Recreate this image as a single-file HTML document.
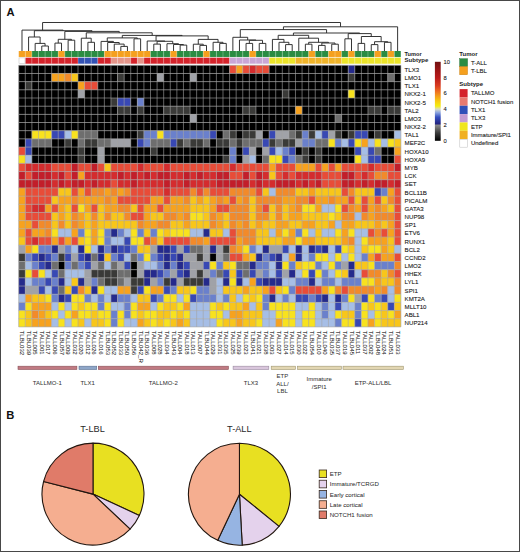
<!DOCTYPE html><html><head><meta charset="utf-8"><style>html,body{margin:0;padding:0;background:#fff;}body{width:520px;height:552px;overflow:hidden;position:relative;}svg{position:absolute;left:0;top:0;}text{font-family:"Liberation Sans",sans-serif;}</style></head><body>
<svg width="520" height="552" viewBox="0 0 520 552">
<rect x="0" y="0" width="520" height="552" fill="#fff"/>
<rect x="0.5" y="0.5" width="519" height="551" fill="none" stroke="#484848" stroke-width="1"/>
<text x="6.6" y="16.3" font-size="11.2" font-weight="bold" fill="#111">A</text>
<text x="6.2" y="418.8" font-size="11.2" font-weight="bold" fill="#111">B</text>
<path d="M41.77 46.00H48.36M41.77 46.00V51.00M48.36 46.00V51.00M35.17 43.40H45.06M35.17 43.40V51.00M45.06 43.40V46.00M28.59 37.00H40.12M28.59 37.00V51.00M40.12 37.00V43.40M54.95 43.10H61.53M54.95 43.10V51.00M61.53 43.10V51.00M68.12 40.20H74.72M68.12 40.20V51.00M74.72 40.20V51.00M58.24 39.30H71.42M58.24 39.30V43.10M71.42 39.30V40.20M87.90 42.30H94.48M87.90 42.30V51.00M94.48 42.30V51.00M81.31 38.20H91.19M81.31 38.20V51.00M91.19 38.20V42.30M120.84 46.40H127.44M120.84 46.40V51.00M127.44 46.40V51.00M114.25 44.10H124.14M114.25 44.10V51.00M124.14 44.10V46.40M107.67 42.50H119.20M107.67 42.50V51.00M119.20 42.50V44.10M101.08 41.40H113.43M101.08 41.40V51.00M113.43 41.40V42.50M134.02 38.80H140.61M134.02 38.80V51.00M140.61 38.80V51.00M107.25 37.90H137.32M107.25 37.90V41.40M137.32 37.90V38.80M153.79 44.10H160.38M153.79 44.10V51.00M160.38 44.10V51.00M180.15 45.10H186.74M180.15 45.10V51.00M186.74 45.10V51.00M173.56 44.50H183.45M173.56 44.50V51.00M183.45 44.50V45.10M166.97 43.70H178.51M166.97 43.70V51.00M178.51 43.70V44.50M157.09 41.30H172.74M157.09 41.30V44.10M172.74 41.30V43.70M147.20 41.00H164.92M147.20 41.00V51.00M164.92 41.00V41.30M199.92 45.40H206.51M199.92 45.40V51.00M206.51 45.40V51.00M193.33 44.20H203.22M193.33 44.20V51.00M203.22 44.20V45.40M219.69 43.40H226.28M219.69 43.40V51.00M226.28 43.40V51.00M213.10 42.30H222.99M213.10 42.30V51.00M222.99 42.30V43.40M198.28 39.40H218.05M198.28 39.40V44.20M218.05 39.40V42.30M156.06 35.90H208.16M156.06 35.90V41.00M208.16 35.90V39.40M122.29 35.40H182.11M122.29 35.40V37.90M182.11 35.40V35.90M86.25 32.80H152.20M86.25 32.80V38.20M152.20 32.80V35.40M64.83 31.40H119.22M64.83 31.40V39.30M119.22 31.40V32.80M34.35 30.70H92.03M34.35 30.70V37.00M92.03 30.70V31.40M21.99 30.10H63.19M21.99 30.10V51.00M63.19 30.10V30.70M246.05 43.40H252.64M246.05 43.40V51.00M252.64 43.40V51.00M259.24 43.40H265.82M259.24 43.40V51.00M265.82 43.40V51.00M249.35 40.30H262.53M249.35 40.30V43.40M262.53 40.30V43.40M239.46 40.00H255.94M239.46 40.00V51.00M255.94 40.00V40.30M232.87 37.30H247.70M232.87 37.30V51.00M247.70 37.30V40.00M285.60 44.60H292.19M285.60 44.60V51.00M292.19 44.60V51.00M279.00 42.30H288.89M279.00 42.30V51.00M288.89 42.30V44.60M272.42 39.40H283.95M272.42 39.40V51.00M283.95 39.40V42.30M305.37 44.20H311.95M305.37 44.20V51.00M311.95 44.20V51.00M318.55 45.40H325.13M318.55 45.40V51.00M325.13 45.40V51.00M331.73 44.20H338.31M331.73 44.20V51.00M338.31 44.20V51.00M321.84 43.00H335.02M321.84 43.00V45.40M335.02 43.00V44.20M308.66 42.30H328.43M308.66 42.30V44.20M328.43 42.30V43.00M298.77 38.20H318.54M298.77 38.20V51.00M318.54 38.20V42.30M278.18 35.30H308.66M278.18 35.30V39.40M308.66 35.30V38.20M344.90 38.80H351.50M344.90 38.80V51.00M351.50 38.80V51.00M358.08 43.40H364.68M358.08 43.40V51.00M364.68 43.40V51.00M371.26 44.60H377.86M371.26 44.60V51.00M377.86 44.60V51.00M384.44 42.30H391.03M384.44 42.30V51.00M391.03 42.30V51.00M374.56 41.70H387.74M374.56 41.70V44.60M387.74 41.70V42.30M361.38 36.50H381.15M361.38 36.50V43.40M381.15 36.50V41.70M348.20 33.60H371.26M348.20 33.60V38.80M371.26 33.60V36.50M293.42 33.00H359.73M293.42 33.00V35.30M359.73 33.00V33.60M240.29 29.60H326.58M240.29 29.60V37.30M326.58 29.60V33.00M283.43 26.80H397.62M283.43 26.80V29.60M397.62 26.80V51.00M42.59 22.50H340.53M42.59 22.50V30.10M340.53 22.50V26.80" fill="none" stroke="#2a2a2a" stroke-width="0.95"/>
<rect x="18.70" y="51.00" width="6.59" height="6.10" fill="#f5a01e"/>
<rect x="18.70" y="57.60" width="6.59" height="6.10" fill="#ffffff"/>
<rect x="25.29" y="51.00" width="6.59" height="6.10" fill="#f5a01e"/>
<rect x="25.29" y="57.60" width="6.59" height="6.10" fill="#d4232b"/>
<rect x="31.88" y="51.00" width="6.59" height="6.10" fill="#2a8c42"/>
<rect x="31.88" y="57.60" width="6.59" height="6.10" fill="#d4232b"/>
<rect x="38.47" y="51.00" width="6.59" height="6.10" fill="#2a8c42"/>
<rect x="38.47" y="57.60" width="6.59" height="6.10" fill="#d4232b"/>
<rect x="45.06" y="51.00" width="6.59" height="6.10" fill="#2a8c42"/>
<rect x="45.06" y="57.60" width="6.59" height="6.10" fill="#d4232b"/>
<rect x="51.65" y="51.00" width="6.59" height="6.10" fill="#2a8c42"/>
<rect x="51.65" y="57.60" width="6.59" height="6.10" fill="#d4232b"/>
<rect x="58.24" y="51.00" width="6.59" height="6.10" fill="#f5a01e"/>
<rect x="58.24" y="57.60" width="6.59" height="6.10" fill="#d4232b"/>
<rect x="64.83" y="51.00" width="6.59" height="6.10" fill="#2a8c42"/>
<rect x="64.83" y="57.60" width="6.59" height="6.10" fill="#d4232b"/>
<rect x="71.42" y="51.00" width="6.59" height="6.10" fill="#2a8c42"/>
<rect x="71.42" y="57.60" width="6.59" height="6.10" fill="#d4232b"/>
<rect x="78.01" y="51.00" width="6.59" height="6.10" fill="#2a8c42"/>
<rect x="78.01" y="57.60" width="6.59" height="6.10" fill="#3352b4"/>
<rect x="84.60" y="51.00" width="6.59" height="6.10" fill="#2a8c42"/>
<rect x="84.60" y="57.60" width="6.59" height="6.10" fill="#3352b4"/>
<rect x="91.19" y="51.00" width="6.59" height="6.10" fill="#2a8c42"/>
<rect x="91.19" y="57.60" width="6.59" height="6.10" fill="#3352b4"/>
<rect x="97.78" y="51.00" width="6.59" height="6.10" fill="#2a8c42"/>
<rect x="97.78" y="57.60" width="6.59" height="6.10" fill="#d4232b"/>
<rect x="104.37" y="51.00" width="6.59" height="6.10" fill="#f5a01e"/>
<rect x="104.37" y="57.60" width="6.59" height="6.10" fill="#d4232b"/>
<rect x="110.96" y="51.00" width="6.59" height="6.10" fill="#f5a01e"/>
<rect x="110.96" y="57.60" width="6.59" height="6.10" fill="#e3958a"/>
<rect x="117.55" y="51.00" width="6.59" height="6.10" fill="#f5a01e"/>
<rect x="117.55" y="57.60" width="6.59" height="6.10" fill="#e3958a"/>
<rect x="124.14" y="51.00" width="6.59" height="6.10" fill="#f5a01e"/>
<rect x="124.14" y="57.60" width="6.59" height="6.10" fill="#e3958a"/>
<rect x="130.73" y="51.00" width="6.59" height="6.10" fill="#f5a01e"/>
<rect x="130.73" y="57.60" width="6.59" height="6.10" fill="#d4232b"/>
<rect x="137.32" y="51.00" width="6.59" height="6.10" fill="#f5a01e"/>
<rect x="137.32" y="57.60" width="6.59" height="6.10" fill="#e3958a"/>
<rect x="143.91" y="51.00" width="6.59" height="6.10" fill="#f5a01e"/>
<rect x="143.91" y="57.60" width="6.59" height="6.10" fill="#d4232b"/>
<rect x="150.50" y="51.00" width="6.59" height="6.10" fill="#2a8c42"/>
<rect x="150.50" y="57.60" width="6.59" height="6.10" fill="#d4232b"/>
<rect x="157.09" y="51.00" width="6.59" height="6.10" fill="#2a8c42"/>
<rect x="157.09" y="57.60" width="6.59" height="6.10" fill="#d4232b"/>
<rect x="163.68" y="51.00" width="6.59" height="6.10" fill="#2a8c42"/>
<rect x="163.68" y="57.60" width="6.59" height="6.10" fill="#d4232b"/>
<rect x="170.27" y="51.00" width="6.59" height="6.10" fill="#f5a01e"/>
<rect x="170.27" y="57.60" width="6.59" height="6.10" fill="#d4232b"/>
<rect x="176.86" y="51.00" width="6.59" height="6.10" fill="#2a8c42"/>
<rect x="176.86" y="57.60" width="6.59" height="6.10" fill="#d4232b"/>
<rect x="183.45" y="51.00" width="6.59" height="6.10" fill="#2a8c42"/>
<rect x="183.45" y="57.60" width="6.59" height="6.10" fill="#d4232b"/>
<rect x="190.04" y="51.00" width="6.59" height="6.10" fill="#2a8c42"/>
<rect x="190.04" y="57.60" width="6.59" height="6.10" fill="#d4232b"/>
<rect x="196.63" y="51.00" width="6.59" height="6.10" fill="#2a8c42"/>
<rect x="196.63" y="57.60" width="6.59" height="6.10" fill="#d4232b"/>
<rect x="203.22" y="51.00" width="6.59" height="6.10" fill="#f5a01e"/>
<rect x="203.22" y="57.60" width="6.59" height="6.10" fill="#d4232b"/>
<rect x="209.81" y="51.00" width="6.59" height="6.10" fill="#2a8c42"/>
<rect x="209.81" y="57.60" width="6.59" height="6.10" fill="#d4232b"/>
<rect x="216.40" y="51.00" width="6.59" height="6.10" fill="#2a8c42"/>
<rect x="216.40" y="57.60" width="6.59" height="6.10" fill="#d4232b"/>
<rect x="222.99" y="51.00" width="6.59" height="6.10" fill="#2a8c42"/>
<rect x="222.99" y="57.60" width="6.59" height="6.10" fill="#d4232b"/>
<rect x="229.58" y="51.00" width="6.59" height="6.10" fill="#2a8c42"/>
<rect x="229.58" y="57.60" width="6.59" height="6.10" fill="#c9a6d6"/>
<rect x="236.17" y="51.00" width="6.59" height="6.10" fill="#2a8c42"/>
<rect x="236.17" y="57.60" width="6.59" height="6.10" fill="#c9a6d6"/>
<rect x="242.76" y="51.00" width="6.59" height="6.10" fill="#2a8c42"/>
<rect x="242.76" y="57.60" width="6.59" height="6.10" fill="#c9a6d6"/>
<rect x="249.35" y="51.00" width="6.59" height="6.10" fill="#f5a01e"/>
<rect x="249.35" y="57.60" width="6.59" height="6.10" fill="#c9a6d6"/>
<rect x="255.94" y="51.00" width="6.59" height="6.10" fill="#2a8c42"/>
<rect x="255.94" y="57.60" width="6.59" height="6.10" fill="#c9a6d6"/>
<rect x="262.53" y="51.00" width="6.59" height="6.10" fill="#2a8c42"/>
<rect x="262.53" y="57.60" width="6.59" height="6.10" fill="#c9a6d6"/>
<rect x="269.12" y="51.00" width="6.59" height="6.10" fill="#2a8c42"/>
<rect x="269.12" y="57.60" width="6.59" height="6.10" fill="#ece42a"/>
<rect x="275.71" y="51.00" width="6.59" height="6.10" fill="#2a8c42"/>
<rect x="275.71" y="57.60" width="6.59" height="6.10" fill="#ece42a"/>
<rect x="282.30" y="51.00" width="6.59" height="6.10" fill="#2a8c42"/>
<rect x="282.30" y="57.60" width="6.59" height="6.10" fill="#ece42a"/>
<rect x="288.89" y="51.00" width="6.59" height="6.10" fill="#2a8c42"/>
<rect x="288.89" y="57.60" width="6.59" height="6.10" fill="#ece42a"/>
<rect x="295.48" y="51.00" width="6.59" height="6.10" fill="#2a8c42"/>
<rect x="295.48" y="57.60" width="6.59" height="6.10" fill="#f0b42a"/>
<rect x="302.07" y="51.00" width="6.59" height="6.10" fill="#2a8c42"/>
<rect x="302.07" y="57.60" width="6.59" height="6.10" fill="#f0b42a"/>
<rect x="308.66" y="51.00" width="6.59" height="6.10" fill="#f5a01e"/>
<rect x="308.66" y="57.60" width="6.59" height="6.10" fill="#f0b42a"/>
<rect x="315.25" y="51.00" width="6.59" height="6.10" fill="#2a8c42"/>
<rect x="315.25" y="57.60" width="6.59" height="6.10" fill="#f0b42a"/>
<rect x="321.84" y="51.00" width="6.59" height="6.10" fill="#2a8c42"/>
<rect x="321.84" y="57.60" width="6.59" height="6.10" fill="#f0b42a"/>
<rect x="328.43" y="51.00" width="6.59" height="6.10" fill="#f5a01e"/>
<rect x="328.43" y="57.60" width="6.59" height="6.10" fill="#f0b42a"/>
<rect x="335.02" y="51.00" width="6.59" height="6.10" fill="#f5a01e"/>
<rect x="335.02" y="57.60" width="6.59" height="6.10" fill="#f0b42a"/>
<rect x="341.61" y="51.00" width="6.59" height="6.10" fill="#2a8c42"/>
<rect x="341.61" y="57.60" width="6.59" height="6.10" fill="#ece42a"/>
<rect x="348.20" y="51.00" width="6.59" height="6.10" fill="#f5a01e"/>
<rect x="348.20" y="57.60" width="6.59" height="6.10" fill="#ece42a"/>
<rect x="354.79" y="51.00" width="6.59" height="6.10" fill="#2a8c42"/>
<rect x="354.79" y="57.60" width="6.59" height="6.10" fill="#ece42a"/>
<rect x="361.38" y="51.00" width="6.59" height="6.10" fill="#2a8c42"/>
<rect x="361.38" y="57.60" width="6.59" height="6.10" fill="#ece42a"/>
<rect x="367.97" y="51.00" width="6.59" height="6.10" fill="#2a8c42"/>
<rect x="367.97" y="57.60" width="6.59" height="6.10" fill="#ece42a"/>
<rect x="374.56" y="51.00" width="6.59" height="6.10" fill="#f5a01e"/>
<rect x="374.56" y="57.60" width="6.59" height="6.10" fill="#ece42a"/>
<rect x="381.15" y="51.00" width="6.59" height="6.10" fill="#2a8c42"/>
<rect x="381.15" y="57.60" width="6.59" height="6.10" fill="#ece42a"/>
<rect x="387.74" y="51.00" width="6.59" height="6.10" fill="#f5a01e"/>
<rect x="387.74" y="57.60" width="6.59" height="6.10" fill="#ece42a"/>
<rect x="394.33" y="51.00" width="6.59" height="6.10" fill="#2a8c42"/>
<rect x="394.33" y="57.60" width="6.59" height="6.10" fill="#ece42a"/>
<path d="M18.70 51.00V63.70M25.29 51.00V63.70M31.88 51.00V63.70M38.47 51.00V63.70M45.06 51.00V63.70M51.65 51.00V63.70M58.24 51.00V63.70M64.83 51.00V63.70M71.42 51.00V63.70M78.01 51.00V63.70M84.60 51.00V63.70M91.19 51.00V63.70M97.78 51.00V63.70M104.37 51.00V63.70M110.96 51.00V63.70M117.55 51.00V63.70M124.14 51.00V63.70M130.73 51.00V63.70M137.32 51.00V63.70M143.91 51.00V63.70M150.50 51.00V63.70M157.09 51.00V63.70M163.68 51.00V63.70M170.27 51.00V63.70M176.86 51.00V63.70M183.45 51.00V63.70M190.04 51.00V63.70M196.63 51.00V63.70M203.22 51.00V63.70M209.81 51.00V63.70M216.40 51.00V63.70M222.99 51.00V63.70M229.58 51.00V63.70M236.17 51.00V63.70M242.76 51.00V63.70M249.35 51.00V63.70M255.94 51.00V63.70M262.53 51.00V63.70M269.12 51.00V63.70M275.71 51.00V63.70M282.30 51.00V63.70M288.89 51.00V63.70M295.48 51.00V63.70M302.07 51.00V63.70M308.66 51.00V63.70M315.25 51.00V63.70M321.84 51.00V63.70M328.43 51.00V63.70M335.02 51.00V63.70M341.61 51.00V63.70M348.20 51.00V63.70M354.79 51.00V63.70M361.38 51.00V63.70M367.97 51.00V63.70M374.56 51.00V63.70M381.15 51.00V63.70M387.74 51.00V63.70M394.33 51.00V63.70M400.92 51.00V63.70M18.70 57.35H400.92" stroke="#fff" stroke-width="0.6" opacity="0.45" fill="none"/>
<rect x="19.00" y="57.90" width="5.99" height="5.50" fill="none" stroke="#bbb" stroke-width="0.5"/>
<rect x="18.70" y="65.30" width="210.88" height="8.18" fill="#000000"/>
<rect x="229.58" y="65.30" width="6.59" height="8.18" fill="#e84c38"/>
<rect x="236.17" y="65.30" width="6.59" height="8.18" fill="#f7a21e"/>
<rect x="242.76" y="65.30" width="6.59" height="8.18" fill="#e84c38"/>
<rect x="249.35" y="65.30" width="6.59" height="8.18" fill="#d42c2e"/>
<rect x="255.94" y="65.30" width="13.18" height="8.18" fill="#e84c38"/>
<rect x="269.12" y="65.30" width="79.08" height="8.18" fill="#000000"/>
<rect x="348.20" y="65.30" width="6.59" height="8.18" fill="#252a8c"/>
<rect x="354.79" y="65.30" width="46.13" height="8.18" fill="#000000"/>
<rect x="18.70" y="73.47" width="32.95" height="8.18" fill="#000000"/>
<rect x="51.65" y="73.47" width="13.18" height="8.18" fill="#f7a21e"/>
<rect x="64.83" y="73.47" width="6.59" height="8.18" fill="#f28a2a"/>
<rect x="71.42" y="73.47" width="6.59" height="8.18" fill="#f8c61a"/>
<rect x="78.01" y="73.47" width="39.54" height="8.18" fill="#000000"/>
<rect x="117.55" y="73.47" width="6.59" height="8.18" fill="#3a3a38"/>
<rect x="124.14" y="73.47" width="32.95" height="8.18" fill="#000000"/>
<rect x="157.09" y="73.47" width="6.59" height="8.18" fill="#a0a2a8"/>
<rect x="163.68" y="73.47" width="26.36" height="8.18" fill="#000000"/>
<rect x="190.04" y="73.47" width="6.59" height="8.18" fill="#a0a2a8"/>
<rect x="196.63" y="73.47" width="151.57" height="8.18" fill="#000000"/>
<rect x="348.20" y="73.47" width="6.59" height="8.18" fill="#3a3a38"/>
<rect x="354.79" y="73.47" width="32.95" height="8.18" fill="#000000"/>
<rect x="387.74" y="73.47" width="6.59" height="8.18" fill="#6e6e6e"/>
<rect x="394.33" y="73.47" width="6.59" height="8.18" fill="#000000"/>
<rect x="18.70" y="81.65" width="6.59" height="8.18" fill="#000000"/>
<rect x="25.29" y="81.65" width="6.59" height="8.18" fill="#3a3a38"/>
<rect x="31.88" y="81.65" width="46.13" height="8.18" fill="#000000"/>
<rect x="78.01" y="81.65" width="6.59" height="8.18" fill="#f7a21e"/>
<rect x="84.60" y="81.65" width="13.18" height="8.18" fill="#e84c38"/>
<rect x="97.78" y="81.65" width="303.14" height="8.18" fill="#000000"/>
<rect x="18.70" y="89.83" width="59.31" height="8.18" fill="#000000"/>
<rect x="78.01" y="89.83" width="6.59" height="8.18" fill="#a0a2a8"/>
<rect x="84.60" y="89.83" width="197.70" height="8.18" fill="#000000"/>
<rect x="282.30" y="89.83" width="6.59" height="8.18" fill="#3a3a38"/>
<rect x="288.89" y="89.83" width="59.31" height="8.18" fill="#000000"/>
<rect x="348.20" y="89.83" width="6.59" height="8.18" fill="#f8e21e"/>
<rect x="354.79" y="89.83" width="46.13" height="8.18" fill="#000000"/>
<rect x="18.70" y="98.00" width="92.26" height="8.18" fill="#000000"/>
<rect x="110.96" y="98.00" width="6.59" height="8.18" fill="#3a3a38"/>
<rect x="117.55" y="98.00" width="13.18" height="8.18" fill="#3848b4"/>
<rect x="130.73" y="98.00" width="6.59" height="8.18" fill="#000000"/>
<rect x="137.32" y="98.00" width="6.59" height="8.18" fill="#6a80cc"/>
<rect x="143.91" y="98.00" width="257.01" height="8.18" fill="#000000"/>
<rect x="18.70" y="106.17" width="98.85" height="8.18" fill="#000000"/>
<rect x="117.55" y="106.17" width="13.18" height="8.18" fill="#3a3a38"/>
<rect x="130.73" y="106.17" width="6.59" height="8.18" fill="#000000"/>
<rect x="137.32" y="106.17" width="6.59" height="8.18" fill="#3a3a38"/>
<rect x="143.91" y="106.17" width="19.77" height="8.18" fill="#000000"/>
<rect x="163.68" y="106.17" width="26.36" height="8.18" fill="#3a3a38"/>
<rect x="190.04" y="106.17" width="52.72" height="8.18" fill="#000000"/>
<rect x="242.76" y="106.17" width="13.18" height="8.18" fill="#3a3a38"/>
<rect x="255.94" y="106.17" width="39.54" height="8.18" fill="#000000"/>
<rect x="295.48" y="106.17" width="6.59" height="8.18" fill="#f7a21e"/>
<rect x="302.07" y="106.17" width="65.90" height="8.18" fill="#000000"/>
<rect x="367.97" y="106.17" width="13.18" height="8.18" fill="#3a3a38"/>
<rect x="381.15" y="106.17" width="6.59" height="8.18" fill="#000000"/>
<rect x="387.74" y="106.17" width="13.18" height="8.18" fill="#3a3a38"/>
<rect x="18.70" y="114.35" width="171.34" height="8.18" fill="#000000"/>
<rect x="190.04" y="114.35" width="6.59" height="8.18" fill="#a0a2a8"/>
<rect x="196.63" y="114.35" width="138.39" height="8.18" fill="#000000"/>
<rect x="335.02" y="114.35" width="6.59" height="8.18" fill="#6e6e6e"/>
<rect x="341.61" y="114.35" width="59.31" height="8.18" fill="#000000"/>
<rect x="18.70" y="122.53" width="382.22" height="8.18" fill="#000000"/>
<rect x="18.70" y="130.70" width="13.18" height="8.18" fill="#000000"/>
<rect x="31.88" y="130.70" width="19.77" height="8.18" fill="#f8e21e"/>
<rect x="51.65" y="130.70" width="13.18" height="8.18" fill="#3848b4"/>
<rect x="64.83" y="130.70" width="6.59" height="8.18" fill="#a6bee6"/>
<rect x="71.42" y="130.70" width="6.59" height="8.18" fill="#f8e21e"/>
<rect x="78.01" y="130.70" width="19.77" height="8.18" fill="#6e6e6e"/>
<rect x="97.78" y="130.70" width="39.54" height="8.18" fill="#000000"/>
<rect x="137.32" y="130.70" width="6.59" height="8.18" fill="#3a3a38"/>
<rect x="143.91" y="130.70" width="13.18" height="8.18" fill="#6a80cc"/>
<rect x="157.09" y="130.70" width="6.59" height="8.18" fill="#f8e21e"/>
<rect x="163.68" y="130.70" width="46.13" height="8.18" fill="#6a80cc"/>
<rect x="209.81" y="130.70" width="6.59" height="8.18" fill="#3848b4"/>
<rect x="216.40" y="130.70" width="6.59" height="8.18" fill="#000000"/>
<rect x="222.99" y="130.70" width="6.59" height="8.18" fill="#6e6e6e"/>
<rect x="229.58" y="130.70" width="6.59" height="8.18" fill="#3a3a38"/>
<rect x="236.17" y="130.70" width="6.59" height="8.18" fill="#000000"/>
<rect x="242.76" y="130.70" width="13.18" height="8.18" fill="#3a3a38"/>
<rect x="255.94" y="130.70" width="6.59" height="8.18" fill="#a0a2a8"/>
<rect x="262.53" y="130.70" width="6.59" height="8.18" fill="#000000"/>
<rect x="269.12" y="130.70" width="6.59" height="8.18" fill="#3848b4"/>
<rect x="275.71" y="130.70" width="13.18" height="8.18" fill="#a0a2a8"/>
<rect x="288.89" y="130.70" width="6.59" height="8.18" fill="#6e6e6e"/>
<rect x="295.48" y="130.70" width="6.59" height="8.18" fill="#3a3a38"/>
<rect x="302.07" y="130.70" width="6.59" height="8.18" fill="#6a80cc"/>
<rect x="308.66" y="130.70" width="6.59" height="8.18" fill="#3a3a38"/>
<rect x="315.25" y="130.70" width="6.59" height="8.18" fill="#a6bee6"/>
<rect x="321.84" y="130.70" width="6.59" height="8.18" fill="#3848b4"/>
<rect x="328.43" y="130.70" width="6.59" height="8.18" fill="#a0a2a8"/>
<rect x="335.02" y="130.70" width="6.59" height="8.18" fill="#3a3a38"/>
<rect x="341.61" y="130.70" width="6.59" height="8.18" fill="#000000"/>
<rect x="348.20" y="130.70" width="6.59" height="8.18" fill="#3a3a38"/>
<rect x="354.79" y="130.70" width="13.18" height="8.18" fill="#3848b4"/>
<rect x="367.97" y="130.70" width="6.59" height="8.18" fill="#000000"/>
<rect x="374.56" y="130.70" width="6.59" height="8.18" fill="#3a3a38"/>
<rect x="381.15" y="130.70" width="13.18" height="8.18" fill="#000000"/>
<rect x="394.33" y="130.70" width="6.59" height="8.18" fill="#a6bee6"/>
<rect x="18.70" y="138.88" width="6.59" height="8.18" fill="#000000"/>
<rect x="25.29" y="138.88" width="6.59" height="8.18" fill="#3848b4"/>
<rect x="31.88" y="138.88" width="19.77" height="8.18" fill="#6e6e6e"/>
<rect x="51.65" y="138.88" width="13.18" height="8.18" fill="#000000"/>
<rect x="64.83" y="138.88" width="6.59" height="8.18" fill="#3a3a38"/>
<rect x="71.42" y="138.88" width="6.59" height="8.18" fill="#000000"/>
<rect x="78.01" y="138.88" width="6.59" height="8.18" fill="#6e6e6e"/>
<rect x="84.60" y="138.88" width="13.18" height="8.18" fill="#3a3a38"/>
<rect x="97.78" y="138.88" width="13.18" height="8.18" fill="#6e6e6e"/>
<rect x="110.96" y="138.88" width="19.77" height="8.18" fill="#a0a2a8"/>
<rect x="130.73" y="138.88" width="6.59" height="8.18" fill="#000000"/>
<rect x="137.32" y="138.88" width="6.59" height="8.18" fill="#3848b4"/>
<rect x="143.91" y="138.88" width="6.59" height="8.18" fill="#6a80cc"/>
<rect x="150.50" y="138.88" width="19.77" height="8.18" fill="#6e6e6e"/>
<rect x="170.27" y="138.88" width="6.59" height="8.18" fill="#3848b4"/>
<rect x="176.86" y="138.88" width="6.59" height="8.18" fill="#3a3a38"/>
<rect x="183.45" y="138.88" width="6.59" height="8.18" fill="#6e6e6e"/>
<rect x="190.04" y="138.88" width="13.18" height="8.18" fill="#3a3a38"/>
<rect x="203.22" y="138.88" width="6.59" height="8.18" fill="#6e6e6e"/>
<rect x="209.81" y="138.88" width="6.59" height="8.18" fill="#000000"/>
<rect x="216.40" y="138.88" width="13.18" height="8.18" fill="#3a3a38"/>
<rect x="229.58" y="138.88" width="6.59" height="8.18" fill="#6e6e6e"/>
<rect x="236.17" y="138.88" width="6.59" height="8.18" fill="#3a3a38"/>
<rect x="242.76" y="138.88" width="19.77" height="8.18" fill="#6e6e6e"/>
<rect x="262.53" y="138.88" width="6.59" height="8.18" fill="#3848b4"/>
<rect x="269.12" y="138.88" width="6.59" height="8.18" fill="#3a3a38"/>
<rect x="275.71" y="138.88" width="6.59" height="8.18" fill="#6e6e6e"/>
<rect x="282.30" y="138.88" width="13.18" height="8.18" fill="#3a3a38"/>
<rect x="295.48" y="138.88" width="6.59" height="8.18" fill="#a0a2a8"/>
<rect x="302.07" y="138.88" width="13.18" height="8.18" fill="#6a80cc"/>
<rect x="315.25" y="138.88" width="13.18" height="8.18" fill="#6e6e6e"/>
<rect x="328.43" y="138.88" width="6.59" height="8.18" fill="#f8e21e"/>
<rect x="335.02" y="138.88" width="6.59" height="8.18" fill="#6a80cc"/>
<rect x="341.61" y="138.88" width="6.59" height="8.18" fill="#a6bee6"/>
<rect x="348.20" y="138.88" width="6.59" height="8.18" fill="#3848b4"/>
<rect x="354.79" y="138.88" width="6.59" height="8.18" fill="#f8e21e"/>
<rect x="361.38" y="138.88" width="6.59" height="8.18" fill="#f7a21e"/>
<rect x="367.97" y="138.88" width="6.59" height="8.18" fill="#a6bee6"/>
<rect x="374.56" y="138.88" width="6.59" height="8.18" fill="#f8e21e"/>
<rect x="381.15" y="138.88" width="6.59" height="8.18" fill="#a6bee6"/>
<rect x="387.74" y="138.88" width="6.59" height="8.18" fill="#f8e21e"/>
<rect x="394.33" y="138.88" width="6.59" height="8.18" fill="#f8c61a"/>
<rect x="18.70" y="147.05" width="6.59" height="8.18" fill="#e84c38"/>
<rect x="25.29" y="147.05" width="6.59" height="8.18" fill="#3848b4"/>
<rect x="31.88" y="147.05" width="46.13" height="8.18" fill="#000000"/>
<rect x="78.01" y="147.05" width="6.59" height="8.18" fill="#3a3a38"/>
<rect x="84.60" y="147.05" width="13.18" height="8.18" fill="#000000"/>
<rect x="97.78" y="147.05" width="6.59" height="8.18" fill="#a0a2a8"/>
<rect x="104.37" y="147.05" width="46.13" height="8.18" fill="#000000"/>
<rect x="150.50" y="147.05" width="6.59" height="8.18" fill="#3a3a38"/>
<rect x="157.09" y="147.05" width="72.49" height="8.18" fill="#000000"/>
<rect x="229.58" y="147.05" width="6.59" height="8.18" fill="#6a80cc"/>
<rect x="236.17" y="147.05" width="6.59" height="8.18" fill="#000000"/>
<rect x="242.76" y="147.05" width="6.59" height="8.18" fill="#3848b4"/>
<rect x="249.35" y="147.05" width="6.59" height="8.18" fill="#a0a2a8"/>
<rect x="255.94" y="147.05" width="6.59" height="8.18" fill="#000000"/>
<rect x="262.53" y="147.05" width="6.59" height="8.18" fill="#a0a2a8"/>
<rect x="269.12" y="147.05" width="6.59" height="8.18" fill="#3848b4"/>
<rect x="275.71" y="147.05" width="6.59" height="8.18" fill="#a6bee6"/>
<rect x="282.30" y="147.05" width="6.59" height="8.18" fill="#6a80cc"/>
<rect x="288.89" y="147.05" width="6.59" height="8.18" fill="#3848b4"/>
<rect x="295.48" y="147.05" width="6.59" height="8.18" fill="#000000"/>
<rect x="302.07" y="147.05" width="6.59" height="8.18" fill="#3a3a38"/>
<rect x="308.66" y="147.05" width="6.59" height="8.18" fill="#000000"/>
<rect x="315.25" y="147.05" width="6.59" height="8.18" fill="#3a3a38"/>
<rect x="321.84" y="147.05" width="32.95" height="8.18" fill="#000000"/>
<rect x="354.79" y="147.05" width="6.59" height="8.18" fill="#3848b4"/>
<rect x="361.38" y="147.05" width="6.59" height="8.18" fill="#a6bee6"/>
<rect x="367.97" y="147.05" width="6.59" height="8.18" fill="#3848b4"/>
<rect x="374.56" y="147.05" width="6.59" height="8.18" fill="#6e6e6e"/>
<rect x="381.15" y="147.05" width="13.18" height="8.18" fill="#000000"/>
<rect x="394.33" y="147.05" width="6.59" height="8.18" fill="#f7a21e"/>
<rect x="18.70" y="155.23" width="6.59" height="8.18" fill="#f8e21e"/>
<rect x="25.29" y="155.23" width="6.59" height="8.18" fill="#a6bee6"/>
<rect x="31.88" y="155.23" width="46.13" height="8.18" fill="#000000"/>
<rect x="78.01" y="155.23" width="6.59" height="8.18" fill="#3a3a38"/>
<rect x="84.60" y="155.23" width="13.18" height="8.18" fill="#000000"/>
<rect x="97.78" y="155.23" width="6.59" height="8.18" fill="#a0a2a8"/>
<rect x="104.37" y="155.23" width="118.62" height="8.18" fill="#000000"/>
<rect x="222.99" y="155.23" width="6.59" height="8.18" fill="#3a3a38"/>
<rect x="229.58" y="155.23" width="6.59" height="8.18" fill="#6a80cc"/>
<rect x="236.17" y="155.23" width="6.59" height="8.18" fill="#000000"/>
<rect x="242.76" y="155.23" width="6.59" height="8.18" fill="#a0a2a8"/>
<rect x="249.35" y="155.23" width="6.59" height="8.18" fill="#a6bee6"/>
<rect x="255.94" y="155.23" width="6.59" height="8.18" fill="#000000"/>
<rect x="262.53" y="155.23" width="6.59" height="8.18" fill="#6e6e6e"/>
<rect x="269.12" y="155.23" width="13.18" height="8.18" fill="#f8e21e"/>
<rect x="282.30" y="155.23" width="6.59" height="8.18" fill="#3848b4"/>
<rect x="288.89" y="155.23" width="6.59" height="8.18" fill="#6a80cc"/>
<rect x="295.48" y="155.23" width="6.59" height="8.18" fill="#6e6e6e"/>
<rect x="302.07" y="155.23" width="6.59" height="8.18" fill="#3a3a38"/>
<rect x="308.66" y="155.23" width="6.59" height="8.18" fill="#000000"/>
<rect x="315.25" y="155.23" width="6.59" height="8.18" fill="#3a3a38"/>
<rect x="321.84" y="155.23" width="32.95" height="8.18" fill="#000000"/>
<rect x="354.79" y="155.23" width="6.59" height="8.18" fill="#f8e21e"/>
<rect x="361.38" y="155.23" width="6.59" height="8.18" fill="#a6bee6"/>
<rect x="367.97" y="155.23" width="13.18" height="8.18" fill="#3848b4"/>
<rect x="381.15" y="155.23" width="13.18" height="8.18" fill="#000000"/>
<rect x="394.33" y="155.23" width="6.59" height="8.18" fill="#e84c38"/>
<rect x="18.70" y="163.40" width="6.59" height="8.18" fill="#e84c38"/>
<rect x="25.29" y="163.40" width="26.36" height="8.18" fill="#d42c2e"/>
<rect x="51.65" y="163.40" width="19.77" height="8.18" fill="#e84c38"/>
<rect x="71.42" y="163.40" width="6.59" height="8.18" fill="#c21e2a"/>
<rect x="78.01" y="163.40" width="13.18" height="8.18" fill="#e84c38"/>
<rect x="91.19" y="163.40" width="6.59" height="8.18" fill="#c21e2a"/>
<rect x="97.78" y="163.40" width="6.59" height="8.18" fill="#e84c38"/>
<rect x="104.37" y="163.40" width="6.59" height="8.18" fill="#f8c61a"/>
<rect x="110.96" y="163.40" width="26.36" height="8.18" fill="#e84c38"/>
<rect x="137.32" y="163.40" width="6.59" height="8.18" fill="#d42c2e"/>
<rect x="143.91" y="163.40" width="19.77" height="8.18" fill="#e84c38"/>
<rect x="163.68" y="163.40" width="6.59" height="8.18" fill="#d42c2e"/>
<rect x="170.27" y="163.40" width="59.31" height="8.18" fill="#e84c38"/>
<rect x="229.58" y="163.40" width="6.59" height="8.18" fill="#d42c2e"/>
<rect x="236.17" y="163.40" width="32.95" height="8.18" fill="#e84c38"/>
<rect x="269.12" y="163.40" width="6.59" height="8.18" fill="#f7a21e"/>
<rect x="275.71" y="163.40" width="19.77" height="8.18" fill="#e84c38"/>
<rect x="295.48" y="163.40" width="19.77" height="8.18" fill="#f7a21e"/>
<rect x="315.25" y="163.40" width="6.59" height="8.18" fill="#e84c38"/>
<rect x="321.84" y="163.40" width="6.59" height="8.18" fill="#f7a21e"/>
<rect x="328.43" y="163.40" width="6.59" height="8.18" fill="#e84c38"/>
<rect x="335.02" y="163.40" width="6.59" height="8.18" fill="#f7a21e"/>
<rect x="341.61" y="163.40" width="26.36" height="8.18" fill="#e84c38"/>
<rect x="367.97" y="163.40" width="6.59" height="8.18" fill="#d42c2e"/>
<rect x="374.56" y="163.40" width="19.77" height="8.18" fill="#e84c38"/>
<rect x="394.33" y="163.40" width="6.59" height="8.18" fill="#c21e2a"/>
<rect x="18.70" y="171.57" width="6.59" height="8.18" fill="#c21e2a"/>
<rect x="25.29" y="171.57" width="6.59" height="8.18" fill="#e84c38"/>
<rect x="31.88" y="171.57" width="19.77" height="8.18" fill="#c21e2a"/>
<rect x="51.65" y="171.57" width="6.59" height="8.18" fill="#d42c2e"/>
<rect x="58.24" y="171.57" width="6.59" height="8.18" fill="#c21e2a"/>
<rect x="64.83" y="171.57" width="6.59" height="8.18" fill="#e84c38"/>
<rect x="71.42" y="171.57" width="6.59" height="8.18" fill="#c21e2a"/>
<rect x="78.01" y="171.57" width="6.59" height="8.18" fill="#f7a21e"/>
<rect x="84.60" y="171.57" width="32.95" height="8.18" fill="#d42c2e"/>
<rect x="117.55" y="171.57" width="6.59" height="8.18" fill="#c21e2a"/>
<rect x="124.14" y="171.57" width="6.59" height="8.18" fill="#d42c2e"/>
<rect x="130.73" y="171.57" width="6.59" height="8.18" fill="#c21e2a"/>
<rect x="137.32" y="171.57" width="6.59" height="8.18" fill="#d42c2e"/>
<rect x="143.91" y="171.57" width="6.59" height="8.18" fill="#c21e2a"/>
<rect x="150.50" y="171.57" width="6.59" height="8.18" fill="#d42c2e"/>
<rect x="157.09" y="171.57" width="13.18" height="8.18" fill="#c21e2a"/>
<rect x="170.27" y="171.57" width="13.18" height="8.18" fill="#d42c2e"/>
<rect x="183.45" y="171.57" width="6.59" height="8.18" fill="#c21e2a"/>
<rect x="190.04" y="171.57" width="6.59" height="8.18" fill="#d42c2e"/>
<rect x="196.63" y="171.57" width="6.59" height="8.18" fill="#c21e2a"/>
<rect x="203.22" y="171.57" width="13.18" height="8.18" fill="#d42c2e"/>
<rect x="216.40" y="171.57" width="13.18" height="8.18" fill="#c21e2a"/>
<rect x="229.58" y="171.57" width="13.18" height="8.18" fill="#e84c38"/>
<rect x="242.76" y="171.57" width="6.59" height="8.18" fill="#c21e2a"/>
<rect x="249.35" y="171.57" width="6.59" height="8.18" fill="#e84c38"/>
<rect x="255.94" y="171.57" width="6.59" height="8.18" fill="#c21e2a"/>
<rect x="262.53" y="171.57" width="6.59" height="8.18" fill="#d42c2e"/>
<rect x="269.12" y="171.57" width="6.59" height="8.18" fill="#f8c61a"/>
<rect x="275.71" y="171.57" width="6.59" height="8.18" fill="#e84c38"/>
<rect x="282.30" y="171.57" width="6.59" height="8.18" fill="#d42c2e"/>
<rect x="288.89" y="171.57" width="6.59" height="8.18" fill="#e84c38"/>
<rect x="295.48" y="171.57" width="26.36" height="8.18" fill="#d42c2e"/>
<rect x="321.84" y="171.57" width="19.77" height="8.18" fill="#e84c38"/>
<rect x="341.61" y="171.57" width="13.18" height="8.18" fill="#c21e2a"/>
<rect x="354.79" y="171.57" width="6.59" height="8.18" fill="#e84c38"/>
<rect x="361.38" y="171.57" width="6.59" height="8.18" fill="#d42c2e"/>
<rect x="367.97" y="171.57" width="6.59" height="8.18" fill="#e84c38"/>
<rect x="374.56" y="171.57" width="13.18" height="8.18" fill="#f28a2a"/>
<rect x="387.74" y="171.57" width="13.18" height="8.18" fill="#e84c38"/>
<rect x="18.70" y="179.75" width="32.95" height="8.18" fill="#c21e2a"/>
<rect x="51.65" y="179.75" width="6.59" height="8.18" fill="#d42c2e"/>
<rect x="58.24" y="179.75" width="6.59" height="8.18" fill="#c21e2a"/>
<rect x="64.83" y="179.75" width="6.59" height="8.18" fill="#d42c2e"/>
<rect x="71.42" y="179.75" width="13.18" height="8.18" fill="#c21e2a"/>
<rect x="84.60" y="179.75" width="6.59" height="8.18" fill="#d42c2e"/>
<rect x="91.19" y="179.75" width="6.59" height="8.18" fill="#c21e2a"/>
<rect x="97.78" y="179.75" width="13.18" height="8.18" fill="#d42c2e"/>
<rect x="110.96" y="179.75" width="6.59" height="8.18" fill="#e84c38"/>
<rect x="117.55" y="179.75" width="13.18" height="8.18" fill="#d42c2e"/>
<rect x="130.73" y="179.75" width="6.59" height="8.18" fill="#c21e2a"/>
<rect x="137.32" y="179.75" width="26.36" height="8.18" fill="#d42c2e"/>
<rect x="163.68" y="179.75" width="6.59" height="8.18" fill="#c21e2a"/>
<rect x="170.27" y="179.75" width="13.18" height="8.18" fill="#d42c2e"/>
<rect x="183.45" y="179.75" width="6.59" height="8.18" fill="#c21e2a"/>
<rect x="190.04" y="179.75" width="26.36" height="8.18" fill="#d42c2e"/>
<rect x="216.40" y="179.75" width="32.95" height="8.18" fill="#c21e2a"/>
<rect x="249.35" y="179.75" width="6.59" height="8.18" fill="#d42c2e"/>
<rect x="255.94" y="179.75" width="6.59" height="8.18" fill="#c21e2a"/>
<rect x="262.53" y="179.75" width="13.18" height="8.18" fill="#d42c2e"/>
<rect x="275.71" y="179.75" width="19.77" height="8.18" fill="#c21e2a"/>
<rect x="295.48" y="179.75" width="6.59" height="8.18" fill="#d42c2e"/>
<rect x="302.07" y="179.75" width="6.59" height="8.18" fill="#c21e2a"/>
<rect x="308.66" y="179.75" width="6.59" height="8.18" fill="#d42c2e"/>
<rect x="315.25" y="179.75" width="6.59" height="8.18" fill="#c21e2a"/>
<rect x="321.84" y="179.75" width="19.77" height="8.18" fill="#e84c38"/>
<rect x="341.61" y="179.75" width="13.18" height="8.18" fill="#c21e2a"/>
<rect x="354.79" y="179.75" width="6.59" height="8.18" fill="#d42c2e"/>
<rect x="361.38" y="179.75" width="6.59" height="8.18" fill="#c21e2a"/>
<rect x="367.97" y="179.75" width="6.59" height="8.18" fill="#d42c2e"/>
<rect x="374.56" y="179.75" width="13.18" height="8.18" fill="#c21e2a"/>
<rect x="387.74" y="179.75" width="6.59" height="8.18" fill="#d42c2e"/>
<rect x="394.33" y="179.75" width="6.59" height="8.18" fill="#c21e2a"/>
<rect x="18.70" y="187.93" width="6.59" height="8.18" fill="#f7a21e"/>
<rect x="25.29" y="187.93" width="32.95" height="8.18" fill="#e84c38"/>
<rect x="58.24" y="187.93" width="13.18" height="8.18" fill="#f8c61a"/>
<rect x="71.42" y="187.93" width="6.59" height="8.18" fill="#e84c38"/>
<rect x="78.01" y="187.93" width="6.59" height="8.18" fill="#f7a21e"/>
<rect x="84.60" y="187.93" width="6.59" height="8.18" fill="#e84c38"/>
<rect x="91.19" y="187.93" width="13.18" height="8.18" fill="#f28a2a"/>
<rect x="104.37" y="187.93" width="6.59" height="8.18" fill="#f7a21e"/>
<rect x="110.96" y="187.93" width="6.59" height="8.18" fill="#f28a2a"/>
<rect x="117.55" y="187.93" width="6.59" height="8.18" fill="#f7a21e"/>
<rect x="124.14" y="187.93" width="6.59" height="8.18" fill="#f28a2a"/>
<rect x="130.73" y="187.93" width="32.95" height="8.18" fill="#e84c38"/>
<rect x="163.68" y="187.93" width="6.59" height="8.18" fill="#d42c2e"/>
<rect x="170.27" y="187.93" width="19.77" height="8.18" fill="#e84c38"/>
<rect x="190.04" y="187.93" width="6.59" height="8.18" fill="#f28a2a"/>
<rect x="196.63" y="187.93" width="6.59" height="8.18" fill="#e84c38"/>
<rect x="203.22" y="187.93" width="6.59" height="8.18" fill="#f28a2a"/>
<rect x="209.81" y="187.93" width="19.77" height="8.18" fill="#e84c38"/>
<rect x="229.58" y="187.93" width="26.36" height="8.18" fill="#f28a2a"/>
<rect x="255.94" y="187.93" width="6.59" height="8.18" fill="#e84c38"/>
<rect x="262.53" y="187.93" width="6.59" height="8.18" fill="#f8c61a"/>
<rect x="269.12" y="187.93" width="6.59" height="8.18" fill="#a6bee6"/>
<rect x="275.71" y="187.93" width="19.77" height="8.18" fill="#f28a2a"/>
<rect x="295.48" y="187.93" width="13.18" height="8.18" fill="#f8c61a"/>
<rect x="308.66" y="187.93" width="6.59" height="8.18" fill="#f7a21e"/>
<rect x="315.25" y="187.93" width="26.36" height="8.18" fill="#f8c61a"/>
<rect x="341.61" y="187.93" width="6.59" height="8.18" fill="#e84c38"/>
<rect x="348.20" y="187.93" width="6.59" height="8.18" fill="#f28a2a"/>
<rect x="354.79" y="187.93" width="19.77" height="8.18" fill="#f8c61a"/>
<rect x="374.56" y="187.93" width="6.59" height="8.18" fill="#3848b4"/>
<rect x="381.15" y="187.93" width="6.59" height="8.18" fill="#6a80cc"/>
<rect x="387.74" y="187.93" width="6.59" height="8.18" fill="#f7a21e"/>
<rect x="394.33" y="187.93" width="6.59" height="8.18" fill="#e84c38"/>
<rect x="18.70" y="196.10" width="6.59" height="8.18" fill="#f7a21e"/>
<rect x="25.29" y="196.10" width="26.36" height="8.18" fill="#e84c38"/>
<rect x="51.65" y="196.10" width="6.59" height="8.18" fill="#f8c61a"/>
<rect x="58.24" y="196.10" width="13.18" height="8.18" fill="#f7a21e"/>
<rect x="71.42" y="196.10" width="6.59" height="8.18" fill="#f28a2a"/>
<rect x="78.01" y="196.10" width="26.36" height="8.18" fill="#f7a21e"/>
<rect x="104.37" y="196.10" width="6.59" height="8.18" fill="#f28a2a"/>
<rect x="110.96" y="196.10" width="6.59" height="8.18" fill="#f7a21e"/>
<rect x="117.55" y="196.10" width="32.95" height="8.18" fill="#e84c38"/>
<rect x="150.50" y="196.10" width="13.18" height="8.18" fill="#f7a21e"/>
<rect x="163.68" y="196.10" width="6.59" height="8.18" fill="#e84c38"/>
<rect x="170.27" y="196.10" width="13.18" height="8.18" fill="#f7a21e"/>
<rect x="183.45" y="196.10" width="6.59" height="8.18" fill="#f28a2a"/>
<rect x="190.04" y="196.10" width="6.59" height="8.18" fill="#f8c61a"/>
<rect x="196.63" y="196.10" width="6.59" height="8.18" fill="#f7a21e"/>
<rect x="203.22" y="196.10" width="6.59" height="8.18" fill="#f8c61a"/>
<rect x="209.81" y="196.10" width="6.59" height="8.18" fill="#f7a21e"/>
<rect x="216.40" y="196.10" width="6.59" height="8.18" fill="#f28a2a"/>
<rect x="222.99" y="196.10" width="6.59" height="8.18" fill="#f7a21e"/>
<rect x="229.58" y="196.10" width="6.59" height="8.18" fill="#e84c38"/>
<rect x="236.17" y="196.10" width="6.59" height="8.18" fill="#f7a21e"/>
<rect x="242.76" y="196.10" width="6.59" height="8.18" fill="#f28a2a"/>
<rect x="249.35" y="196.10" width="6.59" height="8.18" fill="#f8c61a"/>
<rect x="255.94" y="196.10" width="26.36" height="8.18" fill="#f28a2a"/>
<rect x="282.30" y="196.10" width="13.18" height="8.18" fill="#f7a21e"/>
<rect x="295.48" y="196.10" width="13.18" height="8.18" fill="#f28a2a"/>
<rect x="308.66" y="196.10" width="6.59" height="8.18" fill="#e84c38"/>
<rect x="315.25" y="196.10" width="13.18" height="8.18" fill="#f7a21e"/>
<rect x="328.43" y="196.10" width="6.59" height="8.18" fill="#f28a2a"/>
<rect x="335.02" y="196.10" width="13.18" height="8.18" fill="#f7a21e"/>
<rect x="348.20" y="196.10" width="6.59" height="8.18" fill="#e84c38"/>
<rect x="354.79" y="196.10" width="6.59" height="8.18" fill="#f8c61a"/>
<rect x="361.38" y="196.10" width="6.59" height="8.18" fill="#e84c38"/>
<rect x="367.97" y="196.10" width="6.59" height="8.18" fill="#f7a21e"/>
<rect x="374.56" y="196.10" width="6.59" height="8.18" fill="#e84c38"/>
<rect x="381.15" y="196.10" width="6.59" height="8.18" fill="#f8c61a"/>
<rect x="387.74" y="196.10" width="6.59" height="8.18" fill="#f28a2a"/>
<rect x="394.33" y="196.10" width="6.59" height="8.18" fill="#e84c38"/>
<rect x="18.70" y="204.28" width="6.59" height="8.18" fill="#f7a21e"/>
<rect x="25.29" y="204.28" width="6.59" height="8.18" fill="#e84c38"/>
<rect x="31.88" y="204.28" width="13.18" height="8.18" fill="#d42c2e"/>
<rect x="45.06" y="204.28" width="6.59" height="8.18" fill="#f7a21e"/>
<rect x="51.65" y="204.28" width="6.59" height="8.18" fill="#e84c38"/>
<rect x="58.24" y="204.28" width="6.59" height="8.18" fill="#f7a21e"/>
<rect x="64.83" y="204.28" width="6.59" height="8.18" fill="#f8c61a"/>
<rect x="71.42" y="204.28" width="6.59" height="8.18" fill="#e84c38"/>
<rect x="78.01" y="204.28" width="6.59" height="8.18" fill="#f8e21e"/>
<rect x="84.60" y="204.28" width="6.59" height="8.18" fill="#f7a21e"/>
<rect x="91.19" y="204.28" width="6.59" height="8.18" fill="#e84c38"/>
<rect x="97.78" y="204.28" width="6.59" height="8.18" fill="#f8c61a"/>
<rect x="104.37" y="204.28" width="13.18" height="8.18" fill="#f7a21e"/>
<rect x="117.55" y="204.28" width="13.18" height="8.18" fill="#f28a2a"/>
<rect x="130.73" y="204.28" width="6.59" height="8.18" fill="#f8c61a"/>
<rect x="137.32" y="204.28" width="6.59" height="8.18" fill="#e84c38"/>
<rect x="143.91" y="204.28" width="13.18" height="8.18" fill="#f7a21e"/>
<rect x="157.09" y="204.28" width="6.59" height="8.18" fill="#e84c38"/>
<rect x="163.68" y="204.28" width="26.36" height="8.18" fill="#f7a21e"/>
<rect x="190.04" y="204.28" width="19.77" height="8.18" fill="#f8c61a"/>
<rect x="209.81" y="204.28" width="6.59" height="8.18" fill="#f7a21e"/>
<rect x="216.40" y="204.28" width="13.18" height="8.18" fill="#e84c38"/>
<rect x="229.58" y="204.28" width="19.77" height="8.18" fill="#f28a2a"/>
<rect x="249.35" y="204.28" width="6.59" height="8.18" fill="#f8c61a"/>
<rect x="255.94" y="204.28" width="6.59" height="8.18" fill="#f28a2a"/>
<rect x="262.53" y="204.28" width="6.59" height="8.18" fill="#e84c38"/>
<rect x="269.12" y="204.28" width="6.59" height="8.18" fill="#f8c61a"/>
<rect x="275.71" y="204.28" width="6.59" height="8.18" fill="#f28a2a"/>
<rect x="282.30" y="204.28" width="6.59" height="8.18" fill="#f8c61a"/>
<rect x="288.89" y="204.28" width="6.59" height="8.18" fill="#f7a21e"/>
<rect x="295.48" y="204.28" width="6.59" height="8.18" fill="#f28a2a"/>
<rect x="302.07" y="204.28" width="13.18" height="8.18" fill="#f8e21e"/>
<rect x="315.25" y="204.28" width="6.59" height="8.18" fill="#f7a21e"/>
<rect x="321.84" y="204.28" width="13.18" height="8.18" fill="#a6bee6"/>
<rect x="335.02" y="204.28" width="6.59" height="8.18" fill="#f8e21e"/>
<rect x="341.61" y="204.28" width="6.59" height="8.18" fill="#e84c38"/>
<rect x="348.20" y="204.28" width="6.59" height="8.18" fill="#f28a2a"/>
<rect x="354.79" y="204.28" width="6.59" height="8.18" fill="#f7a21e"/>
<rect x="361.38" y="204.28" width="6.59" height="8.18" fill="#e84c38"/>
<rect x="367.97" y="204.28" width="6.59" height="8.18" fill="#f7a21e"/>
<rect x="374.56" y="204.28" width="6.59" height="8.18" fill="#f28a2a"/>
<rect x="381.15" y="204.28" width="6.59" height="8.18" fill="#f7a21e"/>
<rect x="387.74" y="204.28" width="6.59" height="8.18" fill="#f8c61a"/>
<rect x="394.33" y="204.28" width="6.59" height="8.18" fill="#e84c38"/>
<rect x="18.70" y="212.45" width="6.59" height="8.18" fill="#f7a21e"/>
<rect x="25.29" y="212.45" width="26.36" height="8.18" fill="#e84c38"/>
<rect x="51.65" y="212.45" width="6.59" height="8.18" fill="#f8c61a"/>
<rect x="58.24" y="212.45" width="6.59" height="8.18" fill="#f7a21e"/>
<rect x="64.83" y="212.45" width="6.59" height="8.18" fill="#f8c61a"/>
<rect x="71.42" y="212.45" width="6.59" height="8.18" fill="#f28a2a"/>
<rect x="78.01" y="212.45" width="6.59" height="8.18" fill="#f7a21e"/>
<rect x="84.60" y="212.45" width="6.59" height="8.18" fill="#f8c61a"/>
<rect x="91.19" y="212.45" width="6.59" height="8.18" fill="#f28a2a"/>
<rect x="97.78" y="212.45" width="6.59" height="8.18" fill="#f8c61a"/>
<rect x="104.37" y="212.45" width="6.59" height="8.18" fill="#f28a2a"/>
<rect x="110.96" y="212.45" width="13.18" height="8.18" fill="#f8c61a"/>
<rect x="124.14" y="212.45" width="6.59" height="8.18" fill="#f28a2a"/>
<rect x="130.73" y="212.45" width="13.18" height="8.18" fill="#e84c38"/>
<rect x="143.91" y="212.45" width="6.59" height="8.18" fill="#f7a21e"/>
<rect x="150.50" y="212.45" width="13.18" height="8.18" fill="#f8c61a"/>
<rect x="163.68" y="212.45" width="13.18" height="8.18" fill="#f28a2a"/>
<rect x="176.86" y="212.45" width="6.59" height="8.18" fill="#f7a21e"/>
<rect x="183.45" y="212.45" width="6.59" height="8.18" fill="#f28a2a"/>
<rect x="190.04" y="212.45" width="13.18" height="8.18" fill="#f8e21e"/>
<rect x="203.22" y="212.45" width="6.59" height="8.18" fill="#f8c61a"/>
<rect x="209.81" y="212.45" width="6.59" height="8.18" fill="#f28a2a"/>
<rect x="216.40" y="212.45" width="6.59" height="8.18" fill="#f7a21e"/>
<rect x="222.99" y="212.45" width="6.59" height="8.18" fill="#f8c61a"/>
<rect x="229.58" y="212.45" width="19.77" height="8.18" fill="#f28a2a"/>
<rect x="249.35" y="212.45" width="6.59" height="8.18" fill="#f8c61a"/>
<rect x="255.94" y="212.45" width="13.18" height="8.18" fill="#f28a2a"/>
<rect x="269.12" y="212.45" width="6.59" height="8.18" fill="#f8c61a"/>
<rect x="275.71" y="212.45" width="6.59" height="8.18" fill="#f28a2a"/>
<rect x="282.30" y="212.45" width="6.59" height="8.18" fill="#f8c61a"/>
<rect x="288.89" y="212.45" width="13.18" height="8.18" fill="#f7a21e"/>
<rect x="302.07" y="212.45" width="26.36" height="8.18" fill="#f8c61a"/>
<rect x="328.43" y="212.45" width="6.59" height="8.18" fill="#f8e21e"/>
<rect x="335.02" y="212.45" width="6.59" height="8.18" fill="#f8c61a"/>
<rect x="341.61" y="212.45" width="13.18" height="8.18" fill="#f28a2a"/>
<rect x="354.79" y="212.45" width="6.59" height="8.18" fill="#a6bee6"/>
<rect x="361.38" y="212.45" width="6.59" height="8.18" fill="#f28a2a"/>
<rect x="367.97" y="212.45" width="6.59" height="8.18" fill="#f7a21e"/>
<rect x="374.56" y="212.45" width="19.77" height="8.18" fill="#f28a2a"/>
<rect x="394.33" y="212.45" width="6.59" height="8.18" fill="#e84c38"/>
<rect x="18.70" y="220.62" width="13.18" height="8.18" fill="#f7a21e"/>
<rect x="31.88" y="220.62" width="6.59" height="8.18" fill="#e84c38"/>
<rect x="38.47" y="220.62" width="13.18" height="8.18" fill="#f28a2a"/>
<rect x="51.65" y="220.62" width="6.59" height="8.18" fill="#f8c61a"/>
<rect x="58.24" y="220.62" width="6.59" height="8.18" fill="#f28a2a"/>
<rect x="64.83" y="220.62" width="6.59" height="8.18" fill="#f8c61a"/>
<rect x="71.42" y="220.62" width="6.59" height="8.18" fill="#f28a2a"/>
<rect x="78.01" y="220.62" width="6.59" height="8.18" fill="#f7a21e"/>
<rect x="84.60" y="220.62" width="6.59" height="8.18" fill="#f8c61a"/>
<rect x="91.19" y="220.62" width="6.59" height="8.18" fill="#f7a21e"/>
<rect x="97.78" y="220.62" width="39.54" height="8.18" fill="#f8c61a"/>
<rect x="137.32" y="220.62" width="6.59" height="8.18" fill="#f28a2a"/>
<rect x="143.91" y="220.62" width="13.18" height="8.18" fill="#f7a21e"/>
<rect x="157.09" y="220.62" width="13.18" height="8.18" fill="#f28a2a"/>
<rect x="170.27" y="220.62" width="13.18" height="8.18" fill="#f8c61a"/>
<rect x="183.45" y="220.62" width="6.59" height="8.18" fill="#f7a21e"/>
<rect x="190.04" y="220.62" width="19.77" height="8.18" fill="#f8c61a"/>
<rect x="209.81" y="220.62" width="6.59" height="8.18" fill="#f28a2a"/>
<rect x="216.40" y="220.62" width="6.59" height="8.18" fill="#f7a21e"/>
<rect x="222.99" y="220.62" width="6.59" height="8.18" fill="#f8c61a"/>
<rect x="229.58" y="220.62" width="6.59" height="8.18" fill="#f28a2a"/>
<rect x="236.17" y="220.62" width="6.59" height="8.18" fill="#f7a21e"/>
<rect x="242.76" y="220.62" width="6.59" height="8.18" fill="#f28a2a"/>
<rect x="249.35" y="220.62" width="6.59" height="8.18" fill="#f8c61a"/>
<rect x="255.94" y="220.62" width="6.59" height="8.18" fill="#f7a21e"/>
<rect x="262.53" y="220.62" width="13.18" height="8.18" fill="#f8c61a"/>
<rect x="275.71" y="220.62" width="13.18" height="8.18" fill="#f7a21e"/>
<rect x="288.89" y="220.62" width="13.18" height="8.18" fill="#f8c61a"/>
<rect x="302.07" y="220.62" width="13.18" height="8.18" fill="#f7a21e"/>
<rect x="315.25" y="220.62" width="13.18" height="8.18" fill="#f8c61a"/>
<rect x="328.43" y="220.62" width="6.59" height="8.18" fill="#f7a21e"/>
<rect x="335.02" y="220.62" width="6.59" height="8.18" fill="#a6bee6"/>
<rect x="341.61" y="220.62" width="13.18" height="8.18" fill="#f7a21e"/>
<rect x="354.79" y="220.62" width="19.77" height="8.18" fill="#f8c61a"/>
<rect x="374.56" y="220.62" width="6.59" height="8.18" fill="#f7a21e"/>
<rect x="381.15" y="220.62" width="6.59" height="8.18" fill="#f8c61a"/>
<rect x="387.74" y="220.62" width="6.59" height="8.18" fill="#f7a21e"/>
<rect x="394.33" y="220.62" width="6.59" height="8.18" fill="#e84c38"/>
<rect x="18.70" y="228.80" width="6.59" height="8.18" fill="#f7a21e"/>
<rect x="25.29" y="228.80" width="6.59" height="8.18" fill="#e84c38"/>
<rect x="31.88" y="228.80" width="13.18" height="8.18" fill="#f7a21e"/>
<rect x="45.06" y="228.80" width="6.59" height="8.18" fill="#f28a2a"/>
<rect x="51.65" y="228.80" width="6.59" height="8.18" fill="#f8e21e"/>
<rect x="58.24" y="228.80" width="13.18" height="8.18" fill="#a6bee6"/>
<rect x="71.42" y="228.80" width="6.59" height="8.18" fill="#f7a21e"/>
<rect x="78.01" y="228.80" width="6.59" height="8.18" fill="#6a80cc"/>
<rect x="84.60" y="228.80" width="6.59" height="8.18" fill="#f8e21e"/>
<rect x="91.19" y="228.80" width="6.59" height="8.18" fill="#f7a21e"/>
<rect x="97.78" y="228.80" width="6.59" height="8.18" fill="#f8e21e"/>
<rect x="104.37" y="228.80" width="6.59" height="8.18" fill="#6a80cc"/>
<rect x="110.96" y="228.80" width="6.59" height="8.18" fill="#252a8c"/>
<rect x="117.55" y="228.80" width="6.59" height="8.18" fill="#6a80cc"/>
<rect x="124.14" y="228.80" width="6.59" height="8.18" fill="#a6bee6"/>
<rect x="130.73" y="228.80" width="6.59" height="8.18" fill="#f8e21e"/>
<rect x="137.32" y="228.80" width="6.59" height="8.18" fill="#6a80cc"/>
<rect x="143.91" y="228.80" width="6.59" height="8.18" fill="#f8c61a"/>
<rect x="150.50" y="228.80" width="6.59" height="8.18" fill="#6a80cc"/>
<rect x="157.09" y="228.80" width="6.59" height="8.18" fill="#f8e21e"/>
<rect x="163.68" y="228.80" width="6.59" height="8.18" fill="#f8c61a"/>
<rect x="170.27" y="228.80" width="19.77" height="8.18" fill="#f8e21e"/>
<rect x="190.04" y="228.80" width="13.18" height="8.18" fill="#a6bee6"/>
<rect x="203.22" y="228.80" width="6.59" height="8.18" fill="#252a8c"/>
<rect x="209.81" y="228.80" width="13.18" height="8.18" fill="#f8c61a"/>
<rect x="222.99" y="228.80" width="6.59" height="8.18" fill="#a6bee6"/>
<rect x="229.58" y="228.80" width="6.59" height="8.18" fill="#e84c38"/>
<rect x="236.17" y="228.80" width="19.77" height="8.18" fill="#f28a2a"/>
<rect x="255.94" y="228.80" width="13.18" height="8.18" fill="#f8c61a"/>
<rect x="269.12" y="228.80" width="6.59" height="8.18" fill="#a6bee6"/>
<rect x="275.71" y="228.80" width="6.59" height="8.18" fill="#f7a21e"/>
<rect x="282.30" y="228.80" width="6.59" height="8.18" fill="#f8e21e"/>
<rect x="288.89" y="228.80" width="6.59" height="8.18" fill="#f7a21e"/>
<rect x="295.48" y="228.80" width="6.59" height="8.18" fill="#6a80cc"/>
<rect x="302.07" y="228.80" width="6.59" height="8.18" fill="#f8e21e"/>
<rect x="308.66" y="228.80" width="6.59" height="8.18" fill="#a6bee6"/>
<rect x="315.25" y="228.80" width="6.59" height="8.18" fill="#f8c61a"/>
<rect x="321.84" y="228.80" width="13.18" height="8.18" fill="#a6bee6"/>
<rect x="335.02" y="228.80" width="6.59" height="8.18" fill="#f8e21e"/>
<rect x="341.61" y="228.80" width="6.59" height="8.18" fill="#f7a21e"/>
<rect x="348.20" y="228.80" width="6.59" height="8.18" fill="#f8e21e"/>
<rect x="354.79" y="228.80" width="13.18" height="8.18" fill="#a6bee6"/>
<rect x="367.97" y="228.80" width="6.59" height="8.18" fill="#e84c38"/>
<rect x="374.56" y="228.80" width="6.59" height="8.18" fill="#f28a2a"/>
<rect x="381.15" y="228.80" width="6.59" height="8.18" fill="#e84c38"/>
<rect x="387.74" y="228.80" width="6.59" height="8.18" fill="#f7a21e"/>
<rect x="394.33" y="228.80" width="6.59" height="8.18" fill="#e84c38"/>
<rect x="18.70" y="236.98" width="6.59" height="8.18" fill="#f8c61a"/>
<rect x="25.29" y="236.98" width="6.59" height="8.18" fill="#e84c38"/>
<rect x="31.88" y="236.98" width="6.59" height="8.18" fill="#d42c2e"/>
<rect x="38.47" y="236.98" width="13.18" height="8.18" fill="#e84c38"/>
<rect x="51.65" y="236.98" width="6.59" height="8.18" fill="#f7a21e"/>
<rect x="58.24" y="236.98" width="6.59" height="8.18" fill="#e84c38"/>
<rect x="64.83" y="236.98" width="6.59" height="8.18" fill="#f7a21e"/>
<rect x="71.42" y="236.98" width="6.59" height="8.18" fill="#e84c38"/>
<rect x="78.01" y="236.98" width="6.59" height="8.18" fill="#f8c61a"/>
<rect x="84.60" y="236.98" width="6.59" height="8.18" fill="#f8e21e"/>
<rect x="91.19" y="236.98" width="6.59" height="8.18" fill="#f7a21e"/>
<rect x="97.78" y="236.98" width="6.59" height="8.18" fill="#f8e21e"/>
<rect x="104.37" y="236.98" width="6.59" height="8.18" fill="#6a80cc"/>
<rect x="110.96" y="236.98" width="13.18" height="8.18" fill="#a6bee6"/>
<rect x="124.14" y="236.98" width="6.59" height="8.18" fill="#3848b4"/>
<rect x="130.73" y="236.98" width="13.18" height="8.18" fill="#f8e21e"/>
<rect x="143.91" y="236.98" width="6.59" height="8.18" fill="#e84c38"/>
<rect x="150.50" y="236.98" width="6.59" height="8.18" fill="#f28a2a"/>
<rect x="157.09" y="236.98" width="6.59" height="8.18" fill="#f8c61a"/>
<rect x="163.68" y="236.98" width="26.36" height="8.18" fill="#e84c38"/>
<rect x="190.04" y="236.98" width="13.18" height="8.18" fill="#f28a2a"/>
<rect x="203.22" y="236.98" width="6.59" height="8.18" fill="#f7a21e"/>
<rect x="209.81" y="236.98" width="26.36" height="8.18" fill="#e84c38"/>
<rect x="236.17" y="236.98" width="6.59" height="8.18" fill="#f7a21e"/>
<rect x="242.76" y="236.98" width="13.18" height="8.18" fill="#f28a2a"/>
<rect x="255.94" y="236.98" width="26.36" height="8.18" fill="#f8c61a"/>
<rect x="282.30" y="236.98" width="13.18" height="8.18" fill="#f7a21e"/>
<rect x="295.48" y="236.98" width="6.59" height="8.18" fill="#f8e21e"/>
<rect x="302.07" y="236.98" width="13.18" height="8.18" fill="#f7a21e"/>
<rect x="315.25" y="236.98" width="26.36" height="8.18" fill="#f8c61a"/>
<rect x="341.61" y="236.98" width="6.59" height="8.18" fill="#f7a21e"/>
<rect x="348.20" y="236.98" width="6.59" height="8.18" fill="#f28a2a"/>
<rect x="354.79" y="236.98" width="6.59" height="8.18" fill="#a6bee6"/>
<rect x="361.38" y="236.98" width="6.59" height="8.18" fill="#f8e21e"/>
<rect x="367.97" y="236.98" width="19.77" height="8.18" fill="#f7a21e"/>
<rect x="387.74" y="236.98" width="6.59" height="8.18" fill="#f8c61a"/>
<rect x="394.33" y="236.98" width="6.59" height="8.18" fill="#e84c38"/>
<rect x="18.70" y="245.15" width="6.59" height="8.18" fill="#a0a2a8"/>
<rect x="25.29" y="245.15" width="6.59" height="8.18" fill="#f7a21e"/>
<rect x="31.88" y="245.15" width="6.59" height="8.18" fill="#f8e21e"/>
<rect x="38.47" y="245.15" width="13.18" height="8.18" fill="#6a80cc"/>
<rect x="51.65" y="245.15" width="6.59" height="8.18" fill="#252a8c"/>
<rect x="58.24" y="245.15" width="6.59" height="8.18" fill="#a0a2a8"/>
<rect x="64.83" y="245.15" width="6.59" height="8.18" fill="#6a80cc"/>
<rect x="71.42" y="245.15" width="6.59" height="8.18" fill="#a6bee6"/>
<rect x="78.01" y="245.15" width="6.59" height="8.18" fill="#252a8c"/>
<rect x="84.60" y="245.15" width="6.59" height="8.18" fill="#f8e21e"/>
<rect x="91.19" y="245.15" width="6.59" height="8.18" fill="#a6bee6"/>
<rect x="97.78" y="245.15" width="6.59" height="8.18" fill="#252a8c"/>
<rect x="104.37" y="245.15" width="6.59" height="8.18" fill="#6a80cc"/>
<rect x="110.96" y="245.15" width="6.59" height="8.18" fill="#252a8c"/>
<rect x="117.55" y="245.15" width="13.18" height="8.18" fill="#3848b4"/>
<rect x="130.73" y="245.15" width="6.59" height="8.18" fill="#6a80cc"/>
<rect x="137.32" y="245.15" width="13.18" height="8.18" fill="#f8c61a"/>
<rect x="150.50" y="245.15" width="6.59" height="8.18" fill="#a0a2a8"/>
<rect x="157.09" y="245.15" width="13.18" height="8.18" fill="#252a8c"/>
<rect x="170.27" y="245.15" width="6.59" height="8.18" fill="#3848b4"/>
<rect x="176.86" y="245.15" width="6.59" height="8.18" fill="#a0a2a8"/>
<rect x="183.45" y="245.15" width="6.59" height="8.18" fill="#3848b4"/>
<rect x="190.04" y="245.15" width="13.18" height="8.18" fill="#6e6e6e"/>
<rect x="203.22" y="245.15" width="6.59" height="8.18" fill="#a0a2a8"/>
<rect x="209.81" y="245.15" width="6.59" height="8.18" fill="#252a8c"/>
<rect x="216.40" y="245.15" width="6.59" height="8.18" fill="#a0a2a8"/>
<rect x="222.99" y="245.15" width="6.59" height="8.18" fill="#3a3a38"/>
<rect x="229.58" y="245.15" width="6.59" height="8.18" fill="#f28a2a"/>
<rect x="236.17" y="245.15" width="6.59" height="8.18" fill="#f7a21e"/>
<rect x="242.76" y="245.15" width="6.59" height="8.18" fill="#f8e21e"/>
<rect x="249.35" y="245.15" width="6.59" height="8.18" fill="#6a80cc"/>
<rect x="255.94" y="245.15" width="6.59" height="8.18" fill="#a6bee6"/>
<rect x="262.53" y="245.15" width="6.59" height="8.18" fill="#252a8c"/>
<rect x="269.12" y="245.15" width="13.18" height="8.18" fill="#a0a2a8"/>
<rect x="282.30" y="245.15" width="6.59" height="8.18" fill="#3848b4"/>
<rect x="288.89" y="245.15" width="6.59" height="8.18" fill="#a6bee6"/>
<rect x="295.48" y="245.15" width="6.59" height="8.18" fill="#252a8c"/>
<rect x="302.07" y="245.15" width="6.59" height="8.18" fill="#a6bee6"/>
<rect x="308.66" y="245.15" width="6.59" height="8.18" fill="#252a8c"/>
<rect x="315.25" y="245.15" width="6.59" height="8.18" fill="#3848b4"/>
<rect x="321.84" y="245.15" width="6.59" height="8.18" fill="#252a8c"/>
<rect x="328.43" y="245.15" width="6.59" height="8.18" fill="#a6bee6"/>
<rect x="335.02" y="245.15" width="6.59" height="8.18" fill="#3848b4"/>
<rect x="341.61" y="245.15" width="6.59" height="8.18" fill="#f8e21e"/>
<rect x="348.20" y="245.15" width="6.59" height="8.18" fill="#f8c61a"/>
<rect x="354.79" y="245.15" width="6.59" height="8.18" fill="#a6bee6"/>
<rect x="361.38" y="245.15" width="6.59" height="8.18" fill="#f8c61a"/>
<rect x="367.97" y="245.15" width="13.18" height="8.18" fill="#f8e21e"/>
<rect x="381.15" y="245.15" width="6.59" height="8.18" fill="#f7a21e"/>
<rect x="387.74" y="245.15" width="6.59" height="8.18" fill="#f8c61a"/>
<rect x="394.33" y="245.15" width="6.59" height="8.18" fill="#a6bee6"/>
<rect x="18.70" y="253.32" width="6.59" height="8.18" fill="#3a3a38"/>
<rect x="25.29" y="253.32" width="6.59" height="8.18" fill="#6a80cc"/>
<rect x="31.88" y="253.32" width="6.59" height="8.18" fill="#3848b4"/>
<rect x="38.47" y="253.32" width="6.59" height="8.18" fill="#252a8c"/>
<rect x="45.06" y="253.32" width="6.59" height="8.18" fill="#3848b4"/>
<rect x="51.65" y="253.32" width="6.59" height="8.18" fill="#6a80cc"/>
<rect x="58.24" y="253.32" width="6.59" height="8.18" fill="#3a3a38"/>
<rect x="64.83" y="253.32" width="6.59" height="8.18" fill="#3848b4"/>
<rect x="71.42" y="253.32" width="6.59" height="8.18" fill="#a0a2a8"/>
<rect x="78.01" y="253.32" width="6.59" height="8.18" fill="#3848b4"/>
<rect x="84.60" y="253.32" width="6.59" height="8.18" fill="#252a8c"/>
<rect x="91.19" y="253.32" width="6.59" height="8.18" fill="#6e6e6e"/>
<rect x="97.78" y="253.32" width="6.59" height="8.18" fill="#252a8c"/>
<rect x="104.37" y="253.32" width="6.59" height="8.18" fill="#f8c61a"/>
<rect x="110.96" y="253.32" width="6.59" height="8.18" fill="#6a80cc"/>
<rect x="117.55" y="253.32" width="6.59" height="8.18" fill="#3848b4"/>
<rect x="124.14" y="253.32" width="6.59" height="8.18" fill="#a6bee6"/>
<rect x="130.73" y="253.32" width="6.59" height="8.18" fill="#6e6e6e"/>
<rect x="137.32" y="253.32" width="6.59" height="8.18" fill="#6a80cc"/>
<rect x="143.91" y="253.32" width="6.59" height="8.18" fill="#f8e21e"/>
<rect x="150.50" y="253.32" width="6.59" height="8.18" fill="#6a80cc"/>
<rect x="157.09" y="253.32" width="6.59" height="8.18" fill="#3848b4"/>
<rect x="163.68" y="253.32" width="6.59" height="8.18" fill="#252a8c"/>
<rect x="170.27" y="253.32" width="6.59" height="8.18" fill="#3848b4"/>
<rect x="176.86" y="253.32" width="6.59" height="8.18" fill="#252a8c"/>
<rect x="183.45" y="253.32" width="13.18" height="8.18" fill="#a0a2a8"/>
<rect x="196.63" y="253.32" width="6.59" height="8.18" fill="#3a3a38"/>
<rect x="203.22" y="253.32" width="6.59" height="8.18" fill="#a0a2a8"/>
<rect x="209.81" y="253.32" width="6.59" height="8.18" fill="#000000"/>
<rect x="216.40" y="253.32" width="6.59" height="8.18" fill="#a0a2a8"/>
<rect x="222.99" y="253.32" width="6.59" height="8.18" fill="#6e6e6e"/>
<rect x="229.58" y="253.32" width="13.18" height="8.18" fill="#e84c38"/>
<rect x="242.76" y="253.32" width="6.59" height="8.18" fill="#f7a21e"/>
<rect x="249.35" y="253.32" width="6.59" height="8.18" fill="#f8c61a"/>
<rect x="255.94" y="253.32" width="6.59" height="8.18" fill="#252a8c"/>
<rect x="262.53" y="253.32" width="6.59" height="8.18" fill="#6a80cc"/>
<rect x="269.12" y="253.32" width="6.59" height="8.18" fill="#3848b4"/>
<rect x="275.71" y="253.32" width="6.59" height="8.18" fill="#252a8c"/>
<rect x="282.30" y="253.32" width="6.59" height="8.18" fill="#a6bee6"/>
<rect x="288.89" y="253.32" width="6.59" height="8.18" fill="#f7a21e"/>
<rect x="295.48" y="253.32" width="6.59" height="8.18" fill="#252a8c"/>
<rect x="302.07" y="253.32" width="6.59" height="8.18" fill="#a6bee6"/>
<rect x="308.66" y="253.32" width="6.59" height="8.18" fill="#6a80cc"/>
<rect x="315.25" y="253.32" width="13.18" height="8.18" fill="#f8e21e"/>
<rect x="328.43" y="253.32" width="6.59" height="8.18" fill="#a6bee6"/>
<rect x="335.02" y="253.32" width="6.59" height="8.18" fill="#f8e21e"/>
<rect x="341.61" y="253.32" width="6.59" height="8.18" fill="#a6bee6"/>
<rect x="348.20" y="253.32" width="6.59" height="8.18" fill="#f8e21e"/>
<rect x="354.79" y="253.32" width="6.59" height="8.18" fill="#a6bee6"/>
<rect x="361.38" y="253.32" width="6.59" height="8.18" fill="#6a80cc"/>
<rect x="367.97" y="253.32" width="6.59" height="8.18" fill="#f7a21e"/>
<rect x="374.56" y="253.32" width="6.59" height="8.18" fill="#e84c38"/>
<rect x="381.15" y="253.32" width="13.18" height="8.18" fill="#f7a21e"/>
<rect x="394.33" y="253.32" width="6.59" height="8.18" fill="#e84c38"/>
<rect x="18.70" y="261.50" width="6.59" height="8.18" fill="#6e6e6e"/>
<rect x="25.29" y="261.50" width="6.59" height="8.18" fill="#a6bee6"/>
<rect x="31.88" y="261.50" width="6.59" height="8.18" fill="#6a80cc"/>
<rect x="38.47" y="261.50" width="6.59" height="8.18" fill="#3848b4"/>
<rect x="45.06" y="261.50" width="6.59" height="8.18" fill="#252a8c"/>
<rect x="51.65" y="261.50" width="6.59" height="8.18" fill="#6e6e6e"/>
<rect x="58.24" y="261.50" width="6.59" height="8.18" fill="#000000"/>
<rect x="64.83" y="261.50" width="6.59" height="8.18" fill="#6a80cc"/>
<rect x="71.42" y="261.50" width="6.59" height="8.18" fill="#6e6e6e"/>
<rect x="78.01" y="261.50" width="6.59" height="8.18" fill="#6a80cc"/>
<rect x="84.60" y="261.50" width="6.59" height="8.18" fill="#3848b4"/>
<rect x="91.19" y="261.50" width="6.59" height="8.18" fill="#a0a2a8"/>
<rect x="97.78" y="261.50" width="6.59" height="8.18" fill="#6e6e6e"/>
<rect x="104.37" y="261.50" width="6.59" height="8.18" fill="#a6bee6"/>
<rect x="110.96" y="261.50" width="6.59" height="8.18" fill="#6e6e6e"/>
<rect x="117.55" y="261.50" width="6.59" height="8.18" fill="#a0a2a8"/>
<rect x="124.14" y="261.50" width="6.59" height="8.18" fill="#3848b4"/>
<rect x="130.73" y="261.50" width="6.59" height="8.18" fill="#000000"/>
<rect x="137.32" y="261.50" width="6.59" height="8.18" fill="#a0a2a8"/>
<rect x="143.91" y="261.50" width="13.18" height="8.18" fill="#a6bee6"/>
<rect x="157.09" y="261.50" width="6.59" height="8.18" fill="#6a80cc"/>
<rect x="163.68" y="261.50" width="6.59" height="8.18" fill="#252a8c"/>
<rect x="170.27" y="261.50" width="6.59" height="8.18" fill="#6a80cc"/>
<rect x="176.86" y="261.50" width="6.59" height="8.18" fill="#252a8c"/>
<rect x="183.45" y="261.50" width="6.59" height="8.18" fill="#3848b4"/>
<rect x="190.04" y="261.50" width="13.18" height="8.18" fill="#a0a2a8"/>
<rect x="203.22" y="261.50" width="6.59" height="8.18" fill="#3848b4"/>
<rect x="209.81" y="261.50" width="6.59" height="8.18" fill="#f8e21e"/>
<rect x="216.40" y="261.50" width="6.59" height="8.18" fill="#6a80cc"/>
<rect x="222.99" y="261.50" width="6.59" height="8.18" fill="#f8c61a"/>
<rect x="229.58" y="261.50" width="6.59" height="8.18" fill="#f8e21e"/>
<rect x="236.17" y="261.50" width="13.18" height="8.18" fill="#6e6e6e"/>
<rect x="249.35" y="261.50" width="6.59" height="8.18" fill="#252a8c"/>
<rect x="255.94" y="261.50" width="13.18" height="8.18" fill="#6a80cc"/>
<rect x="269.12" y="261.50" width="6.59" height="8.18" fill="#a6bee6"/>
<rect x="275.71" y="261.50" width="6.59" height="8.18" fill="#252a8c"/>
<rect x="282.30" y="261.50" width="6.59" height="8.18" fill="#f8e21e"/>
<rect x="288.89" y="261.50" width="6.59" height="8.18" fill="#6a80cc"/>
<rect x="295.48" y="261.50" width="6.59" height="8.18" fill="#f8c61a"/>
<rect x="302.07" y="261.50" width="13.18" height="8.18" fill="#f8e21e"/>
<rect x="315.25" y="261.50" width="6.59" height="8.18" fill="#6a80cc"/>
<rect x="321.84" y="261.50" width="6.59" height="8.18" fill="#a6bee6"/>
<rect x="328.43" y="261.50" width="6.59" height="8.18" fill="#f8e21e"/>
<rect x="335.02" y="261.50" width="6.59" height="8.18" fill="#6a80cc"/>
<rect x="341.61" y="261.50" width="6.59" height="8.18" fill="#a0a2a8"/>
<rect x="348.20" y="261.50" width="6.59" height="8.18" fill="#252a8c"/>
<rect x="354.79" y="261.50" width="13.18" height="8.18" fill="#f8c61a"/>
<rect x="367.97" y="261.50" width="6.59" height="8.18" fill="#f8e21e"/>
<rect x="374.56" y="261.50" width="19.77" height="8.18" fill="#6a80cc"/>
<rect x="394.33" y="261.50" width="6.59" height="8.18" fill="#f28a2a"/>
<rect x="18.70" y="269.68" width="6.59" height="8.18" fill="#3a3a38"/>
<rect x="25.29" y="269.68" width="6.59" height="8.18" fill="#f8e21e"/>
<rect x="31.88" y="269.68" width="6.59" height="8.18" fill="#e84c38"/>
<rect x="38.47" y="269.68" width="6.59" height="8.18" fill="#f8e21e"/>
<rect x="45.06" y="269.68" width="6.59" height="8.18" fill="#a6bee6"/>
<rect x="51.65" y="269.68" width="6.59" height="8.18" fill="#3848b4"/>
<rect x="58.24" y="269.68" width="6.59" height="8.18" fill="#6e6e6e"/>
<rect x="64.83" y="269.68" width="19.77" height="8.18" fill="#a6bee6"/>
<rect x="84.60" y="269.68" width="6.59" height="8.18" fill="#a0a2a8"/>
<rect x="91.19" y="269.68" width="26.36" height="8.18" fill="#3a3a38"/>
<rect x="117.55" y="269.68" width="13.18" height="8.18" fill="#6e6e6e"/>
<rect x="130.73" y="269.68" width="6.59" height="8.18" fill="#000000"/>
<rect x="137.32" y="269.68" width="6.59" height="8.18" fill="#a0a2a8"/>
<rect x="143.91" y="269.68" width="13.18" height="8.18" fill="#252a8c"/>
<rect x="157.09" y="269.68" width="6.59" height="8.18" fill="#3848b4"/>
<rect x="163.68" y="269.68" width="6.59" height="8.18" fill="#6a80cc"/>
<rect x="170.27" y="269.68" width="6.59" height="8.18" fill="#a0a2a8"/>
<rect x="176.86" y="269.68" width="6.59" height="8.18" fill="#3848b4"/>
<rect x="183.45" y="269.68" width="6.59" height="8.18" fill="#252a8c"/>
<rect x="190.04" y="269.68" width="6.59" height="8.18" fill="#a0a2a8"/>
<rect x="196.63" y="269.68" width="6.59" height="8.18" fill="#3a3a38"/>
<rect x="203.22" y="269.68" width="6.59" height="8.18" fill="#a0a2a8"/>
<rect x="209.81" y="269.68" width="6.59" height="8.18" fill="#6a80cc"/>
<rect x="216.40" y="269.68" width="6.59" height="8.18" fill="#6e6e6e"/>
<rect x="222.99" y="269.68" width="6.59" height="8.18" fill="#3848b4"/>
<rect x="229.58" y="269.68" width="6.59" height="8.18" fill="#f8c61a"/>
<rect x="236.17" y="269.68" width="6.59" height="8.18" fill="#3848b4"/>
<rect x="242.76" y="269.68" width="6.59" height="8.18" fill="#6e6e6e"/>
<rect x="249.35" y="269.68" width="6.59" height="8.18" fill="#3848b4"/>
<rect x="255.94" y="269.68" width="6.59" height="8.18" fill="#a0a2a8"/>
<rect x="262.53" y="269.68" width="6.59" height="8.18" fill="#6a80cc"/>
<rect x="269.12" y="269.68" width="6.59" height="8.18" fill="#a6bee6"/>
<rect x="275.71" y="269.68" width="6.59" height="8.18" fill="#3848b4"/>
<rect x="282.30" y="269.68" width="6.59" height="8.18" fill="#a0a2a8"/>
<rect x="288.89" y="269.68" width="6.59" height="8.18" fill="#252a8c"/>
<rect x="295.48" y="269.68" width="6.59" height="8.18" fill="#a6bee6"/>
<rect x="302.07" y="269.68" width="6.59" height="8.18" fill="#f8e21e"/>
<rect x="308.66" y="269.68" width="6.59" height="8.18" fill="#3848b4"/>
<rect x="315.25" y="269.68" width="6.59" height="8.18" fill="#f8e21e"/>
<rect x="321.84" y="269.68" width="6.59" height="8.18" fill="#6a80cc"/>
<rect x="328.43" y="269.68" width="6.59" height="8.18" fill="#a6bee6"/>
<rect x="335.02" y="269.68" width="6.59" height="8.18" fill="#f8e21e"/>
<rect x="341.61" y="269.68" width="6.59" height="8.18" fill="#f8c61a"/>
<rect x="348.20" y="269.68" width="6.59" height="8.18" fill="#252a8c"/>
<rect x="354.79" y="269.68" width="6.59" height="8.18" fill="#a6bee6"/>
<rect x="361.38" y="269.68" width="6.59" height="8.18" fill="#e84c38"/>
<rect x="367.97" y="269.68" width="13.18" height="8.18" fill="#f28a2a"/>
<rect x="381.15" y="269.68" width="6.59" height="8.18" fill="#f8c61a"/>
<rect x="387.74" y="269.68" width="6.59" height="8.18" fill="#f28a2a"/>
<rect x="394.33" y="269.68" width="6.59" height="8.18" fill="#e84c38"/>
<rect x="18.70" y="277.85" width="6.59" height="8.18" fill="#252a8c"/>
<rect x="25.29" y="277.85" width="6.59" height="8.18" fill="#a6bee6"/>
<rect x="31.88" y="277.85" width="13.18" height="8.18" fill="#6a80cc"/>
<rect x="45.06" y="277.85" width="6.59" height="8.18" fill="#3848b4"/>
<rect x="51.65" y="277.85" width="6.59" height="8.18" fill="#6a80cc"/>
<rect x="58.24" y="277.85" width="6.59" height="8.18" fill="#252a8c"/>
<rect x="64.83" y="277.85" width="6.59" height="8.18" fill="#a6bee6"/>
<rect x="71.42" y="277.85" width="6.59" height="8.18" fill="#f8c61a"/>
<rect x="78.01" y="277.85" width="6.59" height="8.18" fill="#252a8c"/>
<rect x="84.60" y="277.85" width="6.59" height="8.18" fill="#a0a2a8"/>
<rect x="91.19" y="277.85" width="6.59" height="8.18" fill="#6a80cc"/>
<rect x="97.78" y="277.85" width="6.59" height="8.18" fill="#6e6e6e"/>
<rect x="104.37" y="277.85" width="13.18" height="8.18" fill="#3a3a38"/>
<rect x="117.55" y="277.85" width="6.59" height="8.18" fill="#6e6e6e"/>
<rect x="124.14" y="277.85" width="6.59" height="8.18" fill="#a0a2a8"/>
<rect x="130.73" y="277.85" width="13.18" height="8.18" fill="#3a3a38"/>
<rect x="143.91" y="277.85" width="6.59" height="8.18" fill="#252a8c"/>
<rect x="150.50" y="277.85" width="6.59" height="8.18" fill="#a0a2a8"/>
<rect x="157.09" y="277.85" width="6.59" height="8.18" fill="#6a80cc"/>
<rect x="163.68" y="277.85" width="6.59" height="8.18" fill="#3a3a38"/>
<rect x="170.27" y="277.85" width="6.59" height="8.18" fill="#252a8c"/>
<rect x="176.86" y="277.85" width="6.59" height="8.18" fill="#a0a2a8"/>
<rect x="183.45" y="277.85" width="19.77" height="8.18" fill="#3a3a38"/>
<rect x="203.22" y="277.85" width="6.59" height="8.18" fill="#252a8c"/>
<rect x="209.81" y="277.85" width="6.59" height="8.18" fill="#a0a2a8"/>
<rect x="216.40" y="277.85" width="6.59" height="8.18" fill="#a6bee6"/>
<rect x="222.99" y="277.85" width="6.59" height="8.18" fill="#252a8c"/>
<rect x="229.58" y="277.85" width="6.59" height="8.18" fill="#f8e21e"/>
<rect x="236.17" y="277.85" width="6.59" height="8.18" fill="#252a8c"/>
<rect x="242.76" y="277.85" width="6.59" height="8.18" fill="#a6bee6"/>
<rect x="249.35" y="277.85" width="6.59" height="8.18" fill="#f7a21e"/>
<rect x="255.94" y="277.85" width="6.59" height="8.18" fill="#3848b4"/>
<rect x="262.53" y="277.85" width="19.77" height="8.18" fill="#252a8c"/>
<rect x="282.30" y="277.85" width="13.18" height="8.18" fill="#a6bee6"/>
<rect x="295.48" y="277.85" width="13.18" height="8.18" fill="#6a80cc"/>
<rect x="308.66" y="277.85" width="6.59" height="8.18" fill="#252a8c"/>
<rect x="315.25" y="277.85" width="6.59" height="8.18" fill="#a6bee6"/>
<rect x="321.84" y="277.85" width="13.18" height="8.18" fill="#6a80cc"/>
<rect x="335.02" y="277.85" width="6.59" height="8.18" fill="#a6bee6"/>
<rect x="341.61" y="277.85" width="19.77" height="8.18" fill="#6a80cc"/>
<rect x="361.38" y="277.85" width="13.18" height="8.18" fill="#f8e21e"/>
<rect x="374.56" y="277.85" width="6.59" height="8.18" fill="#f7a21e"/>
<rect x="381.15" y="277.85" width="13.18" height="8.18" fill="#f8c61a"/>
<rect x="394.33" y="277.85" width="6.59" height="8.18" fill="#f28a2a"/>
<rect x="18.70" y="286.03" width="6.59" height="8.18" fill="#252a8c"/>
<rect x="25.29" y="286.03" width="13.18" height="8.18" fill="#a0a2a8"/>
<rect x="38.47" y="286.03" width="6.59" height="8.18" fill="#3848b4"/>
<rect x="45.06" y="286.03" width="6.59" height="8.18" fill="#a6bee6"/>
<rect x="51.65" y="286.03" width="6.59" height="8.18" fill="#3848b4"/>
<rect x="58.24" y="286.03" width="6.59" height="8.18" fill="#6e6e6e"/>
<rect x="64.83" y="286.03" width="6.59" height="8.18" fill="#f8c61a"/>
<rect x="71.42" y="286.03" width="6.59" height="8.18" fill="#3848b4"/>
<rect x="78.01" y="286.03" width="6.59" height="8.18" fill="#f28a2a"/>
<rect x="84.60" y="286.03" width="6.59" height="8.18" fill="#f8c61a"/>
<rect x="91.19" y="286.03" width="6.59" height="8.18" fill="#252a8c"/>
<rect x="97.78" y="286.03" width="6.59" height="8.18" fill="#f8e21e"/>
<rect x="104.37" y="286.03" width="13.18" height="8.18" fill="#a6bee6"/>
<rect x="117.55" y="286.03" width="13.18" height="8.18" fill="#f7a21e"/>
<rect x="130.73" y="286.03" width="6.59" height="8.18" fill="#3a3a38"/>
<rect x="137.32" y="286.03" width="6.59" height="8.18" fill="#3848b4"/>
<rect x="143.91" y="286.03" width="6.59" height="8.18" fill="#f8e21e"/>
<rect x="150.50" y="286.03" width="13.18" height="8.18" fill="#f7a21e"/>
<rect x="163.68" y="286.03" width="6.59" height="8.18" fill="#3848b4"/>
<rect x="170.27" y="286.03" width="6.59" height="8.18" fill="#6a80cc"/>
<rect x="176.86" y="286.03" width="13.18" height="8.18" fill="#f8c61a"/>
<rect x="190.04" y="286.03" width="6.59" height="8.18" fill="#f8e21e"/>
<rect x="196.63" y="286.03" width="13.18" height="8.18" fill="#6a80cc"/>
<rect x="209.81" y="286.03" width="6.59" height="8.18" fill="#a0a2a8"/>
<rect x="216.40" y="286.03" width="6.59" height="8.18" fill="#a6bee6"/>
<rect x="222.99" y="286.03" width="19.77" height="8.18" fill="#f8c61a"/>
<rect x="242.76" y="286.03" width="6.59" height="8.18" fill="#f7a21e"/>
<rect x="249.35" y="286.03" width="13.18" height="8.18" fill="#f8c61a"/>
<rect x="262.53" y="286.03" width="6.59" height="8.18" fill="#f7a21e"/>
<rect x="269.12" y="286.03" width="6.59" height="8.18" fill="#e84c38"/>
<rect x="275.71" y="286.03" width="6.59" height="8.18" fill="#f8c61a"/>
<rect x="282.30" y="286.03" width="6.59" height="8.18" fill="#f8e21e"/>
<rect x="288.89" y="286.03" width="6.59" height="8.18" fill="#6a80cc"/>
<rect x="295.48" y="286.03" width="26.36" height="8.18" fill="#e84c38"/>
<rect x="321.84" y="286.03" width="6.59" height="8.18" fill="#f7a21e"/>
<rect x="328.43" y="286.03" width="6.59" height="8.18" fill="#f8e21e"/>
<rect x="335.02" y="286.03" width="6.59" height="8.18" fill="#f28a2a"/>
<rect x="341.61" y="286.03" width="6.59" height="8.18" fill="#e84c38"/>
<rect x="348.20" y="286.03" width="26.36" height="8.18" fill="#f28a2a"/>
<rect x="374.56" y="286.03" width="6.59" height="8.18" fill="#f7a21e"/>
<rect x="381.15" y="286.03" width="6.59" height="8.18" fill="#f28a2a"/>
<rect x="387.74" y="286.03" width="6.59" height="8.18" fill="#a6bee6"/>
<rect x="394.33" y="286.03" width="6.59" height="8.18" fill="#f28a2a"/>
<rect x="18.70" y="294.20" width="6.59" height="8.18" fill="#a6bee6"/>
<rect x="25.29" y="294.20" width="6.59" height="8.18" fill="#f7a21e"/>
<rect x="31.88" y="294.20" width="13.18" height="8.18" fill="#f8c61a"/>
<rect x="45.06" y="294.20" width="6.59" height="8.18" fill="#f8e21e"/>
<rect x="51.65" y="294.20" width="6.59" height="8.18" fill="#6a80cc"/>
<rect x="58.24" y="294.20" width="6.59" height="8.18" fill="#252a8c"/>
<rect x="64.83" y="294.20" width="6.59" height="8.18" fill="#3848b4"/>
<rect x="71.42" y="294.20" width="13.18" height="8.18" fill="#f8e21e"/>
<rect x="84.60" y="294.20" width="6.59" height="8.18" fill="#6a80cc"/>
<rect x="91.19" y="294.20" width="6.59" height="8.18" fill="#a6bee6"/>
<rect x="97.78" y="294.20" width="6.59" height="8.18" fill="#6a80cc"/>
<rect x="104.37" y="294.20" width="6.59" height="8.18" fill="#a6bee6"/>
<rect x="110.96" y="294.20" width="6.59" height="8.18" fill="#252a8c"/>
<rect x="117.55" y="294.20" width="13.18" height="8.18" fill="#6a80cc"/>
<rect x="130.73" y="294.20" width="6.59" height="8.18" fill="#a6bee6"/>
<rect x="137.32" y="294.20" width="13.18" height="8.18" fill="#f8c61a"/>
<rect x="150.50" y="294.20" width="6.59" height="8.18" fill="#3848b4"/>
<rect x="157.09" y="294.20" width="6.59" height="8.18" fill="#6a80cc"/>
<rect x="163.68" y="294.20" width="13.18" height="8.18" fill="#f8e21e"/>
<rect x="176.86" y="294.20" width="6.59" height="8.18" fill="#a6bee6"/>
<rect x="183.45" y="294.20" width="6.59" height="8.18" fill="#f8e21e"/>
<rect x="190.04" y="294.20" width="6.59" height="8.18" fill="#3848b4"/>
<rect x="196.63" y="294.20" width="19.77" height="8.18" fill="#6a80cc"/>
<rect x="216.40" y="294.20" width="6.59" height="8.18" fill="#a6bee6"/>
<rect x="222.99" y="294.20" width="6.59" height="8.18" fill="#6a80cc"/>
<rect x="229.58" y="294.20" width="6.59" height="8.18" fill="#f8c61a"/>
<rect x="236.17" y="294.20" width="6.59" height="8.18" fill="#a6bee6"/>
<rect x="242.76" y="294.20" width="6.59" height="8.18" fill="#f8e21e"/>
<rect x="249.35" y="294.20" width="6.59" height="8.18" fill="#f8c61a"/>
<rect x="255.94" y="294.20" width="6.59" height="8.18" fill="#f8e21e"/>
<rect x="262.53" y="294.20" width="6.59" height="8.18" fill="#6a80cc"/>
<rect x="269.12" y="294.20" width="6.59" height="8.18" fill="#252a8c"/>
<rect x="275.71" y="294.20" width="6.59" height="8.18" fill="#a6bee6"/>
<rect x="282.30" y="294.20" width="6.59" height="8.18" fill="#6a80cc"/>
<rect x="288.89" y="294.20" width="6.59" height="8.18" fill="#a6bee6"/>
<rect x="295.48" y="294.20" width="13.18" height="8.18" fill="#3848b4"/>
<rect x="308.66" y="294.20" width="6.59" height="8.18" fill="#6a80cc"/>
<rect x="315.25" y="294.20" width="6.59" height="8.18" fill="#3848b4"/>
<rect x="321.84" y="294.20" width="6.59" height="8.18" fill="#252a8c"/>
<rect x="328.43" y="294.20" width="6.59" height="8.18" fill="#a6bee6"/>
<rect x="335.02" y="294.20" width="6.59" height="8.18" fill="#252a8c"/>
<rect x="341.61" y="294.20" width="6.59" height="8.18" fill="#6a80cc"/>
<rect x="348.20" y="294.20" width="6.59" height="8.18" fill="#f8e21e"/>
<rect x="354.79" y="294.20" width="6.59" height="8.18" fill="#a0a2a8"/>
<rect x="361.38" y="294.20" width="6.59" height="8.18" fill="#3848b4"/>
<rect x="367.97" y="294.20" width="6.59" height="8.18" fill="#f8e21e"/>
<rect x="374.56" y="294.20" width="6.59" height="8.18" fill="#6a80cc"/>
<rect x="381.15" y="294.20" width="6.59" height="8.18" fill="#3848b4"/>
<rect x="387.74" y="294.20" width="6.59" height="8.18" fill="#a6bee6"/>
<rect x="394.33" y="294.20" width="6.59" height="8.18" fill="#f8e21e"/>
<rect x="18.70" y="302.38" width="6.59" height="8.18" fill="#6a80cc"/>
<rect x="25.29" y="302.38" width="6.59" height="8.18" fill="#f8e21e"/>
<rect x="31.88" y="302.38" width="19.77" height="8.18" fill="#f7a21e"/>
<rect x="51.65" y="302.38" width="6.59" height="8.18" fill="#a6bee6"/>
<rect x="58.24" y="302.38" width="6.59" height="8.18" fill="#f8e21e"/>
<rect x="64.83" y="302.38" width="6.59" height="8.18" fill="#a6bee6"/>
<rect x="71.42" y="302.38" width="6.59" height="8.18" fill="#f8e21e"/>
<rect x="78.01" y="302.38" width="6.59" height="8.18" fill="#f8c61a"/>
<rect x="84.60" y="302.38" width="13.18" height="8.18" fill="#f8e21e"/>
<rect x="97.78" y="302.38" width="6.59" height="8.18" fill="#6a80cc"/>
<rect x="104.37" y="302.38" width="6.59" height="8.18" fill="#f8e21e"/>
<rect x="110.96" y="302.38" width="13.18" height="8.18" fill="#a6bee6"/>
<rect x="124.14" y="302.38" width="6.59" height="8.18" fill="#6a80cc"/>
<rect x="130.73" y="302.38" width="6.59" height="8.18" fill="#f8e21e"/>
<rect x="137.32" y="302.38" width="13.18" height="8.18" fill="#f7a21e"/>
<rect x="150.50" y="302.38" width="6.59" height="8.18" fill="#a6bee6"/>
<rect x="157.09" y="302.38" width="6.59" height="8.18" fill="#f8e21e"/>
<rect x="163.68" y="302.38" width="13.18" height="8.18" fill="#f8c61a"/>
<rect x="176.86" y="302.38" width="6.59" height="8.18" fill="#f8e21e"/>
<rect x="183.45" y="302.38" width="6.59" height="8.18" fill="#f7a21e"/>
<rect x="190.04" y="302.38" width="19.77" height="8.18" fill="#a6bee6"/>
<rect x="209.81" y="302.38" width="6.59" height="8.18" fill="#f8e21e"/>
<rect x="216.40" y="302.38" width="6.59" height="8.18" fill="#f8c61a"/>
<rect x="222.99" y="302.38" width="6.59" height="8.18" fill="#f8e21e"/>
<rect x="229.58" y="302.38" width="13.18" height="8.18" fill="#f8c61a"/>
<rect x="242.76" y="302.38" width="6.59" height="8.18" fill="#f7a21e"/>
<rect x="249.35" y="302.38" width="6.59" height="8.18" fill="#a6bee6"/>
<rect x="255.94" y="302.38" width="6.59" height="8.18" fill="#f8c61a"/>
<rect x="262.53" y="302.38" width="6.59" height="8.18" fill="#6a80cc"/>
<rect x="269.12" y="302.38" width="26.36" height="8.18" fill="#f8e21e"/>
<rect x="295.48" y="302.38" width="13.18" height="8.18" fill="#a6bee6"/>
<rect x="308.66" y="302.38" width="6.59" height="8.18" fill="#f8e21e"/>
<rect x="315.25" y="302.38" width="6.59" height="8.18" fill="#a6bee6"/>
<rect x="321.84" y="302.38" width="6.59" height="8.18" fill="#6a80cc"/>
<rect x="328.43" y="302.38" width="6.59" height="8.18" fill="#a6bee6"/>
<rect x="335.02" y="302.38" width="6.59" height="8.18" fill="#3848b4"/>
<rect x="341.61" y="302.38" width="13.18" height="8.18" fill="#a6bee6"/>
<rect x="354.79" y="302.38" width="6.59" height="8.18" fill="#6a80cc"/>
<rect x="361.38" y="302.38" width="6.59" height="8.18" fill="#f8e21e"/>
<rect x="367.97" y="302.38" width="6.59" height="8.18" fill="#f8c61a"/>
<rect x="374.56" y="302.38" width="6.59" height="8.18" fill="#f8e21e"/>
<rect x="381.15" y="302.38" width="6.59" height="8.18" fill="#f8c61a"/>
<rect x="387.74" y="302.38" width="6.59" height="8.18" fill="#3848b4"/>
<rect x="394.33" y="302.38" width="6.59" height="8.18" fill="#f8c61a"/>
<rect x="18.70" y="310.55" width="6.59" height="8.18" fill="#f8e21e"/>
<rect x="25.29" y="310.55" width="6.59" height="8.18" fill="#f8c61a"/>
<rect x="31.88" y="310.55" width="6.59" height="8.18" fill="#f28a2a"/>
<rect x="38.47" y="310.55" width="6.59" height="8.18" fill="#f7a21e"/>
<rect x="45.06" y="310.55" width="6.59" height="8.18" fill="#f8c61a"/>
<rect x="51.65" y="310.55" width="6.59" height="8.18" fill="#f8e21e"/>
<rect x="58.24" y="310.55" width="6.59" height="8.18" fill="#a6bee6"/>
<rect x="64.83" y="310.55" width="6.59" height="8.18" fill="#f8e21e"/>
<rect x="71.42" y="310.55" width="6.59" height="8.18" fill="#f7a21e"/>
<rect x="78.01" y="310.55" width="13.18" height="8.18" fill="#f8e21e"/>
<rect x="91.19" y="310.55" width="6.59" height="8.18" fill="#f8c61a"/>
<rect x="97.78" y="310.55" width="13.18" height="8.18" fill="#f8e21e"/>
<rect x="110.96" y="310.55" width="6.59" height="8.18" fill="#6a80cc"/>
<rect x="117.55" y="310.55" width="6.59" height="8.18" fill="#f8e21e"/>
<rect x="124.14" y="310.55" width="6.59" height="8.18" fill="#6a80cc"/>
<rect x="130.73" y="310.55" width="6.59" height="8.18" fill="#f8e21e"/>
<rect x="137.32" y="310.55" width="6.59" height="8.18" fill="#f8c61a"/>
<rect x="143.91" y="310.55" width="13.18" height="8.18" fill="#f8e21e"/>
<rect x="157.09" y="310.55" width="13.18" height="8.18" fill="#f8c61a"/>
<rect x="170.27" y="310.55" width="6.59" height="8.18" fill="#f8e21e"/>
<rect x="176.86" y="310.55" width="6.59" height="8.18" fill="#f8c61a"/>
<rect x="183.45" y="310.55" width="6.59" height="8.18" fill="#f8e21e"/>
<rect x="190.04" y="310.55" width="19.77" height="8.18" fill="#a6bee6"/>
<rect x="209.81" y="310.55" width="13.18" height="8.18" fill="#f8e21e"/>
<rect x="222.99" y="310.55" width="6.59" height="8.18" fill="#a6bee6"/>
<rect x="229.58" y="310.55" width="13.18" height="8.18" fill="#f7a21e"/>
<rect x="242.76" y="310.55" width="19.77" height="8.18" fill="#f8c61a"/>
<rect x="262.53" y="310.55" width="13.18" height="8.18" fill="#a6bee6"/>
<rect x="275.71" y="310.55" width="19.77" height="8.18" fill="#f8e21e"/>
<rect x="295.48" y="310.55" width="6.59" height="8.18" fill="#a6bee6"/>
<rect x="302.07" y="310.55" width="13.18" height="8.18" fill="#f8e21e"/>
<rect x="315.25" y="310.55" width="6.59" height="8.18" fill="#a6bee6"/>
<rect x="321.84" y="310.55" width="6.59" height="8.18" fill="#6a80cc"/>
<rect x="328.43" y="310.55" width="6.59" height="8.18" fill="#a6bee6"/>
<rect x="335.02" y="310.55" width="6.59" height="8.18" fill="#f8e21e"/>
<rect x="341.61" y="310.55" width="13.18" height="8.18" fill="#f8c61a"/>
<rect x="354.79" y="310.55" width="6.59" height="8.18" fill="#6a80cc"/>
<rect x="361.38" y="310.55" width="6.59" height="8.18" fill="#f8e21e"/>
<rect x="367.97" y="310.55" width="6.59" height="8.18" fill="#a6bee6"/>
<rect x="374.56" y="310.55" width="6.59" height="8.18" fill="#f8e21e"/>
<rect x="381.15" y="310.55" width="6.59" height="8.18" fill="#f8c61a"/>
<rect x="387.74" y="310.55" width="6.59" height="8.18" fill="#f8e21e"/>
<rect x="394.33" y="310.55" width="6.59" height="8.18" fill="#f7a21e"/>
<rect x="18.70" y="318.73" width="6.59" height="8.18" fill="#f8e21e"/>
<rect x="25.29" y="318.73" width="6.59" height="8.18" fill="#f8c61a"/>
<rect x="31.88" y="318.73" width="19.77" height="8.18" fill="#f7a21e"/>
<rect x="51.65" y="318.73" width="6.59" height="8.18" fill="#a6bee6"/>
<rect x="58.24" y="318.73" width="6.59" height="8.18" fill="#f8e21e"/>
<rect x="64.83" y="318.73" width="6.59" height="8.18" fill="#a6bee6"/>
<rect x="71.42" y="318.73" width="6.59" height="8.18" fill="#f8e21e"/>
<rect x="78.01" y="318.73" width="6.59" height="8.18" fill="#f8c61a"/>
<rect x="84.60" y="318.73" width="6.59" height="8.18" fill="#a6bee6"/>
<rect x="91.19" y="318.73" width="13.18" height="8.18" fill="#f8c61a"/>
<rect x="104.37" y="318.73" width="6.59" height="8.18" fill="#f8e21e"/>
<rect x="110.96" y="318.73" width="6.59" height="8.18" fill="#6a80cc"/>
<rect x="117.55" y="318.73" width="6.59" height="8.18" fill="#f8e21e"/>
<rect x="124.14" y="318.73" width="13.18" height="8.18" fill="#a6bee6"/>
<rect x="137.32" y="318.73" width="6.59" height="8.18" fill="#f7a21e"/>
<rect x="143.91" y="318.73" width="6.59" height="8.18" fill="#f8c61a"/>
<rect x="150.50" y="318.73" width="6.59" height="8.18" fill="#f8e21e"/>
<rect x="157.09" y="318.73" width="6.59" height="8.18" fill="#f8c61a"/>
<rect x="163.68" y="318.73" width="6.59" height="8.18" fill="#f8e21e"/>
<rect x="170.27" y="318.73" width="6.59" height="8.18" fill="#f8c61a"/>
<rect x="176.86" y="318.73" width="6.59" height="8.18" fill="#f7a21e"/>
<rect x="183.45" y="318.73" width="6.59" height="8.18" fill="#f8c61a"/>
<rect x="190.04" y="318.73" width="26.36" height="8.18" fill="#a6bee6"/>
<rect x="216.40" y="318.73" width="6.59" height="8.18" fill="#f8e21e"/>
<rect x="222.99" y="318.73" width="13.18" height="8.18" fill="#f8c61a"/>
<rect x="236.17" y="318.73" width="6.59" height="8.18" fill="#f7a21e"/>
<rect x="242.76" y="318.73" width="13.18" height="8.18" fill="#f8c61a"/>
<rect x="255.94" y="318.73" width="6.59" height="8.18" fill="#f8e21e"/>
<rect x="262.53" y="318.73" width="13.18" height="8.18" fill="#a6bee6"/>
<rect x="275.71" y="318.73" width="6.59" height="8.18" fill="#f7a21e"/>
<rect x="282.30" y="318.73" width="13.18" height="8.18" fill="#f8e21e"/>
<rect x="295.48" y="318.73" width="6.59" height="8.18" fill="#a6bee6"/>
<rect x="302.07" y="318.73" width="13.18" height="8.18" fill="#f8e21e"/>
<rect x="315.25" y="318.73" width="19.77" height="8.18" fill="#a6bee6"/>
<rect x="335.02" y="318.73" width="6.59" height="8.18" fill="#6a80cc"/>
<rect x="341.61" y="318.73" width="13.18" height="8.18" fill="#f8e21e"/>
<rect x="354.79" y="318.73" width="6.59" height="8.18" fill="#3848b4"/>
<rect x="361.38" y="318.73" width="6.59" height="8.18" fill="#f8e21e"/>
<rect x="367.97" y="318.73" width="6.59" height="8.18" fill="#f7a21e"/>
<rect x="374.56" y="318.73" width="6.59" height="8.18" fill="#f8e21e"/>
<rect x="381.15" y="318.73" width="19.77" height="8.18" fill="#f8c61a"/>
<path d="M18.70 65.30V326.90M25.29 65.30V326.90M31.88 65.30V326.90M38.47 65.30V326.90M45.06 65.30V326.90M51.65 65.30V326.90M58.24 65.30V326.90M64.83 65.30V326.90M71.42 65.30V326.90M78.01 65.30V326.90M84.60 65.30V326.90M91.19 65.30V326.90M97.78 65.30V326.90M104.37 65.30V326.90M110.96 65.30V326.90M117.55 65.30V326.90M124.14 65.30V326.90M130.73 65.30V326.90M137.32 65.30V326.90M143.91 65.30V326.90M150.50 65.30V326.90M157.09 65.30V326.90M163.68 65.30V326.90M170.27 65.30V326.90M176.86 65.30V326.90M183.45 65.30V326.90M190.04 65.30V326.90M196.63 65.30V326.90M203.22 65.30V326.90M209.81 65.30V326.90M216.40 65.30V326.90M222.99 65.30V326.90M229.58 65.30V326.90M236.17 65.30V326.90M242.76 65.30V326.90M249.35 65.30V326.90M255.94 65.30V326.90M262.53 65.30V326.90M269.12 65.30V326.90M275.71 65.30V326.90M282.30 65.30V326.90M288.89 65.30V326.90M295.48 65.30V326.90M302.07 65.30V326.90M308.66 65.30V326.90M315.25 65.30V326.90M321.84 65.30V326.90M328.43 65.30V326.90M335.02 65.30V326.90M341.61 65.30V326.90M348.20 65.30V326.90M354.79 65.30V326.90M361.38 65.30V326.90M367.97 65.30V326.90M374.56 65.30V326.90M381.15 65.30V326.90M387.74 65.30V326.90M394.33 65.30V326.90M400.92 65.30V326.90M18.70 65.30H400.92M18.70 73.47H400.92M18.70 81.65H400.92M18.70 89.83H400.92M18.70 98.00H400.92M18.70 106.17H400.92M18.70 114.35H400.92M18.70 122.53H400.92M18.70 130.70H400.92M18.70 138.88H400.92M18.70 147.05H400.92M18.70 155.23H400.92M18.70 163.40H400.92M18.70 171.57H400.92M18.70 179.75H400.92M18.70 187.93H400.92M18.70 196.10H400.92M18.70 204.28H400.92M18.70 212.45H400.92M18.70 220.62H400.92M18.70 228.80H400.92M18.70 236.98H400.92M18.70 245.15H400.92M18.70 253.32H400.92M18.70 261.50H400.92M18.70 269.68H400.92M18.70 277.85H400.92M18.70 286.03H400.92M18.70 294.20H400.92M18.70 302.38H400.92M18.70 310.55H400.92M18.70 318.73H400.92M18.70 326.90H400.92" stroke="#a4a4a4" stroke-width="0.75" opacity="0.8" fill="none"/>
<text x="404.6" y="55.80" font-size="5.6" font-weight="bold" fill="#1a1a1a">Tumor</text>
<text x="404.6" y="62.40" font-size="6.0" font-weight="bold" fill="#1a1a1a">Subtype</text>
<text x="404.6" y="71.89" font-size="6.1" fill="#1a1a1a" stroke="#1a1a1a" stroke-width="0.1">TLX3</text>
<text x="404.6" y="80.06" font-size="6.1" fill="#1a1a1a" stroke="#1a1a1a" stroke-width="0.1">LMO1</text>
<text x="404.6" y="88.24" font-size="6.1" fill="#1a1a1a" stroke="#1a1a1a" stroke-width="0.1">TLX1</text>
<text x="404.6" y="96.41" font-size="6.1" fill="#1a1a1a" stroke="#1a1a1a" stroke-width="0.1">NKX2-1</text>
<text x="404.6" y="104.59" font-size="6.1" fill="#1a1a1a" stroke="#1a1a1a" stroke-width="0.1">NKX2-5</text>
<text x="404.6" y="112.76" font-size="6.1" fill="#1a1a1a" stroke="#1a1a1a" stroke-width="0.1">TAL2</text>
<text x="404.6" y="120.94" font-size="6.1" fill="#1a1a1a" stroke="#1a1a1a" stroke-width="0.1">LMO3</text>
<text x="404.6" y="129.11" font-size="6.1" fill="#1a1a1a" stroke="#1a1a1a" stroke-width="0.1">NKX2-2</text>
<text x="404.6" y="137.29" font-size="6.1" fill="#1a1a1a" stroke="#1a1a1a" stroke-width="0.1">TAL1</text>
<text x="404.6" y="145.46" font-size="6.1" fill="#1a1a1a" stroke="#1a1a1a" stroke-width="0.1">MEF2C</text>
<text x="404.6" y="153.64" font-size="6.1" fill="#1a1a1a" stroke="#1a1a1a" stroke-width="0.1">HOXA10</text>
<text x="404.6" y="161.81" font-size="6.1" fill="#1a1a1a" stroke="#1a1a1a" stroke-width="0.1">HOXA9</text>
<text x="404.6" y="169.99" font-size="6.1" fill="#1a1a1a" stroke="#1a1a1a" stroke-width="0.1">MYB</text>
<text x="404.6" y="178.16" font-size="6.1" fill="#1a1a1a" stroke="#1a1a1a" stroke-width="0.1">LCK</text>
<text x="404.6" y="186.34" font-size="6.1" fill="#1a1a1a" stroke="#1a1a1a" stroke-width="0.1">SET</text>
<text x="404.6" y="194.51" font-size="6.1" fill="#1a1a1a" stroke="#1a1a1a" stroke-width="0.1">BCL11B</text>
<text x="404.6" y="202.69" font-size="6.1" fill="#1a1a1a" stroke="#1a1a1a" stroke-width="0.1">PICALM</text>
<text x="404.6" y="210.86" font-size="6.1" fill="#1a1a1a" stroke="#1a1a1a" stroke-width="0.1">GATA3</text>
<text x="404.6" y="219.04" font-size="6.1" fill="#1a1a1a" stroke="#1a1a1a" stroke-width="0.1">NUP98</text>
<text x="404.6" y="227.21" font-size="6.1" fill="#1a1a1a" stroke="#1a1a1a" stroke-width="0.1">SP1</text>
<text x="404.6" y="235.39" font-size="6.1" fill="#1a1a1a" stroke="#1a1a1a" stroke-width="0.1">ETV6</text>
<text x="404.6" y="243.56" font-size="6.1" fill="#1a1a1a" stroke="#1a1a1a" stroke-width="0.1">RUNX1</text>
<text x="404.6" y="251.74" font-size="6.1" fill="#1a1a1a" stroke="#1a1a1a" stroke-width="0.1">BCL2</text>
<text x="404.6" y="259.91" font-size="6.1" fill="#1a1a1a" stroke="#1a1a1a" stroke-width="0.1">CCND2</text>
<text x="404.6" y="268.09" font-size="6.1" fill="#1a1a1a" stroke="#1a1a1a" stroke-width="0.1">LMO2</text>
<text x="404.6" y="276.26" font-size="6.1" fill="#1a1a1a" stroke="#1a1a1a" stroke-width="0.1">HHEX</text>
<text x="404.6" y="284.44" font-size="6.1" fill="#1a1a1a" stroke="#1a1a1a" stroke-width="0.1">LYL1</text>
<text x="404.6" y="292.61" font-size="6.1" fill="#1a1a1a" stroke="#1a1a1a" stroke-width="0.1">SPI1</text>
<text x="404.6" y="300.79" font-size="6.1" fill="#1a1a1a" stroke="#1a1a1a" stroke-width="0.1">KMT2A</text>
<text x="404.6" y="308.96" font-size="6.1" fill="#1a1a1a" stroke="#1a1a1a" stroke-width="0.1">MLLT10</text>
<text x="404.6" y="317.14" font-size="6.1" fill="#1a1a1a" stroke="#1a1a1a" stroke-width="0.1">ABL1</text>
<text x="404.6" y="325.31" font-size="6.1" fill="#1a1a1a" stroke="#1a1a1a" stroke-width="0.1">NUP214</text>
<text transform="translate(19.99 330.70) rotate(90)" font-size="6.0" fill="#222" stroke="#222" stroke-width="0.04">TLBL032</text>
<text transform="translate(26.59 330.70) rotate(90)" font-size="6.0" fill="#222" stroke="#222" stroke-width="0.04">TLBL039</text>
<text transform="translate(33.17 330.70) rotate(90)" font-size="6.0" fill="#222" stroke="#222" stroke-width="0.04">TALL005</text>
<text transform="translate(39.77 330.70) rotate(90)" font-size="6.0" fill="#222" stroke="#222" stroke-width="0.04">TALL001</text>
<text transform="translate(46.36 330.70) rotate(90)" font-size="6.0" fill="#222" stroke="#222" stroke-width="0.04">TALL017</text>
<text transform="translate(52.95 330.70) rotate(90)" font-size="6.0" fill="#222" stroke="#222" stroke-width="0.04">TALL006</text>
<text transform="translate(59.53 330.70) rotate(90)" font-size="6.0" fill="#222" stroke="#222" stroke-width="0.04">TLBL057</text>
<text transform="translate(66.12 330.70) rotate(90)" font-size="6.0" fill="#222" stroke="#222" stroke-width="0.04">TALL009</text>
<text transform="translate(72.72 330.70) rotate(90)" font-size="6.0" fill="#222" stroke="#222" stroke-width="0.04">TALL032</text>
<text transform="translate(79.31 330.70) rotate(90)" font-size="6.0" fill="#222" stroke="#222" stroke-width="0.04">TALL020</text>
<text transform="translate(85.90 330.70) rotate(90)" font-size="6.0" fill="#222" stroke="#222" stroke-width="0.04">TALL012</text>
<text transform="translate(92.48 330.70) rotate(90)" font-size="6.0" fill="#222" stroke="#222" stroke-width="0.04">TALL026</text>
<text transform="translate(99.08 330.70) rotate(90)" font-size="6.0" fill="#222" stroke="#222" stroke-width="0.04">TALL016</text>
<text transform="translate(105.67 330.70) rotate(90)" font-size="6.0" fill="#222" stroke="#222" stroke-width="0.04">TLBL053</text>
<text transform="translate(112.25 330.70) rotate(90)" font-size="6.0" fill="#222" stroke="#222" stroke-width="0.04">TLBL052</text>
<text transform="translate(118.84 330.70) rotate(90)" font-size="6.0" fill="#222" stroke="#222" stroke-width="0.04">TLBL033</text>
<text transform="translate(125.44 330.70) rotate(90)" font-size="6.0" fill="#222" stroke="#222" stroke-width="0.04">TLBL050</text>
<text transform="translate(132.02 330.70) rotate(90)" font-size="6.0" fill="#222" stroke="#222" stroke-width="0.04">TLBL056</text>
<text transform="translate(138.61 330.70) rotate(90)" font-size="6.0" fill="#222" stroke="#222" stroke-width="0.04">TLBL042_R</text>
<text transform="translate(145.20 330.70) rotate(90)" font-size="6.0" fill="#222" stroke="#222" stroke-width="0.04">TLBL036</text>
<text transform="translate(151.79 330.70) rotate(90)" font-size="6.0" fill="#222" stroke="#222" stroke-width="0.04">TALL008</text>
<text transform="translate(158.38 330.70) rotate(90)" font-size="6.0" fill="#222" stroke="#222" stroke-width="0.04">TALL028</text>
<text transform="translate(164.97 330.70) rotate(90)" font-size="6.0" fill="#222" stroke="#222" stroke-width="0.04">TALL034</text>
<text transform="translate(171.56 330.70) rotate(90)" font-size="6.0" fill="#222" stroke="#222" stroke-width="0.04">TLBL043</text>
<text transform="translate(178.15 330.70) rotate(90)" font-size="6.0" fill="#222" stroke="#222" stroke-width="0.04">TALL004</text>
<text transform="translate(184.74 330.70) rotate(90)" font-size="6.0" fill="#222" stroke="#222" stroke-width="0.04">TALL018</text>
<text transform="translate(191.33 330.70) rotate(90)" font-size="6.0" fill="#222" stroke="#222" stroke-width="0.04">TALL013</text>
<text transform="translate(197.92 330.70) rotate(90)" font-size="6.0" fill="#222" stroke="#222" stroke-width="0.04">TALL007</text>
<text transform="translate(204.51 330.70) rotate(90)" font-size="6.0" fill="#222" stroke="#222" stroke-width="0.04">TLBL044</text>
<text transform="translate(211.10 330.70) rotate(90)" font-size="6.0" fill="#222" stroke="#222" stroke-width="0.04">TALL029</text>
<text transform="translate(217.69 330.70) rotate(90)" font-size="6.0" fill="#222" stroke="#222" stroke-width="0.04">TALL031</text>
<text transform="translate(224.28 330.70) rotate(90)" font-size="6.0" fill="#222" stroke="#222" stroke-width="0.04">TALL035</text>
<text transform="translate(230.87 330.70) rotate(90)" font-size="6.0" fill="#222" stroke="#222" stroke-width="0.04">TALL025</text>
<text transform="translate(237.46 330.70) rotate(90)" font-size="6.0" fill="#222" stroke="#222" stroke-width="0.04">TALL039</text>
<text transform="translate(244.05 330.70) rotate(90)" font-size="6.0" fill="#222" stroke="#222" stroke-width="0.04">TALL023</text>
<text transform="translate(250.64 330.70) rotate(90)" font-size="6.0" fill="#222" stroke="#222" stroke-width="0.04">TLBL041</text>
<text transform="translate(257.24 330.70) rotate(90)" font-size="6.0" fill="#222" stroke="#222" stroke-width="0.04">TALL021</text>
<text transform="translate(263.82 330.70) rotate(90)" font-size="6.0" fill="#222" stroke="#222" stroke-width="0.04">TALL038</text>
<text transform="translate(270.42 330.70) rotate(90)" font-size="6.0" fill="#222" stroke="#222" stroke-width="0.04">TALL003</text>
<text transform="translate(277.00 330.70) rotate(90)" font-size="6.0" fill="#222" stroke="#222" stroke-width="0.04">TALL027</text>
<text transform="translate(283.60 330.70) rotate(90)" font-size="6.0" fill="#222" stroke="#222" stroke-width="0.04">TALL014</text>
<text transform="translate(290.19 330.70) rotate(90)" font-size="6.0" fill="#222" stroke="#222" stroke-width="0.04">TALL015</text>
<text transform="translate(296.77 330.70) rotate(90)" font-size="6.0" fill="#222" stroke="#222" stroke-width="0.04">TALL030</text>
<text transform="translate(303.37 330.70) rotate(90)" font-size="6.0" fill="#222" stroke="#222" stroke-width="0.04">TALL022</text>
<text transform="translate(309.95 330.70) rotate(90)" font-size="6.0" fill="#222" stroke="#222" stroke-width="0.04">TLBL054</text>
<text transform="translate(316.55 330.70) rotate(90)" font-size="6.0" fill="#222" stroke="#222" stroke-width="0.04">TALL010</text>
<text transform="translate(323.13 330.70) rotate(90)" font-size="6.0" fill="#222" stroke="#222" stroke-width="0.04">TALL040</text>
<text transform="translate(329.73 330.70) rotate(90)" font-size="6.0" fill="#222" stroke="#222" stroke-width="0.04">TLBL035</text>
<text transform="translate(336.31 330.70) rotate(90)" font-size="6.0" fill="#222" stroke="#222" stroke-width="0.04">TLBL037</text>
<text transform="translate(342.90 330.70) rotate(90)" font-size="6.0" fill="#222" stroke="#222" stroke-width="0.04">TALL019</text>
<text transform="translate(349.50 330.70) rotate(90)" font-size="6.0" fill="#222" stroke="#222" stroke-width="0.04">TLBL045</text>
<text transform="translate(356.08 330.70) rotate(90)" font-size="6.0" fill="#222" stroke="#222" stroke-width="0.04">TALL011</text>
<text transform="translate(362.68 330.70) rotate(90)" font-size="6.0" fill="#222" stroke="#222" stroke-width="0.04">TALL037</text>
<text transform="translate(369.26 330.70) rotate(90)" font-size="6.0" fill="#222" stroke="#222" stroke-width="0.04">TALL002</text>
<text transform="translate(375.86 330.70) rotate(90)" font-size="6.0" fill="#222" stroke="#222" stroke-width="0.04">TLBL048</text>
<text transform="translate(382.44 330.70) rotate(90)" font-size="6.0" fill="#222" stroke="#222" stroke-width="0.04">TALL024</text>
<text transform="translate(389.03 330.70) rotate(90)" font-size="6.0" fill="#222" stroke="#222" stroke-width="0.04">TLBL051</text>
<text transform="translate(395.62 330.70) rotate(90)" font-size="6.0" fill="#222" stroke="#222" stroke-width="0.04">TALL033</text>
<rect x="18.00" y="366.2" width="58.90" height="3.3" fill="#c07a82" stroke="#8a5058" stroke-width="0.6"/>
<rect x="79.00" y="366.2" width="17.70" height="3.3" fill="#8ea6c8" stroke="#5a7090" stroke-width="0.6"/>
<rect x="98.30" y="366.2" width="130.10" height="3.3" fill="#c07a82" stroke="#8a5058" stroke-width="0.6"/>
<rect x="233.10" y="366.2" width="35.70" height="3.3" fill="#d9c6dc" stroke="#9a8aa0" stroke-width="0.6"/>
<rect x="271.20" y="366.2" width="24.30" height="3.3" fill="#e2d6b2" stroke="#a09670" stroke-width="0.6"/>
<rect x="297.60" y="366.2" width="43.70" height="3.3" fill="#e2d6b2" stroke="#a09670" stroke-width="0.6"/>
<rect x="343.00" y="366.2" width="60.30" height="3.3" fill="#e2d6b2" stroke="#a09670" stroke-width="0.6"/>
<text x="47.30" y="385.10" font-size="6.00" fill="#333" stroke="#333" stroke-width="0.04" text-anchor="middle">TALLMO-1</text>
<text x="87.60" y="385.10" font-size="6.00" fill="#333" stroke="#333" stroke-width="0.04" text-anchor="middle">TLX1</text>
<text x="163.30" y="385.10" font-size="6.00" fill="#333" stroke="#333" stroke-width="0.04" text-anchor="middle">TALLMO-2</text>
<text x="251.00" y="385.10" font-size="6.00" fill="#333" stroke="#333" stroke-width="0.04" text-anchor="middle">TLX3</text>
<text x="282.40" y="377.80" font-size="6.00" fill="#333" stroke="#333" stroke-width="0.04" text-anchor="middle">ETP</text>
<text x="282.40" y="385.50" font-size="6.00" fill="#333" stroke="#333" stroke-width="0.04" text-anchor="middle">ALL/</text>
<text x="282.40" y="392.80" font-size="6.00" fill="#333" stroke="#333" stroke-width="0.04" text-anchor="middle">LBL</text>
<text x="319.20" y="381.20" font-size="6.00" fill="#333" stroke="#333" stroke-width="0.04" text-anchor="middle">Immature</text>
<text x="319.20" y="389.00" font-size="6.00" fill="#333" stroke="#333" stroke-width="0.04" text-anchor="middle">/SPI1</text>
<text x="373.00" y="385.10" font-size="6.00" fill="#333" stroke="#333" stroke-width="0.04" text-anchor="middle">ETP-ALL/LBL</text>
<defs><linearGradient id="cb" x1="0" y1="1" x2="0" y2="0"><stop offset="0" stop-color="#000"/><stop offset="0.1" stop-color="#3c3c3c"/><stop offset="0.2" stop-color="#8c8c8c"/><stop offset="0.212" stop-color="#22227e"/><stop offset="0.3" stop-color="#3550c0"/><stop offset="0.36" stop-color="#90a8e0"/><stop offset="0.40" stop-color="#d8dcc8"/><stop offset="0.44" stop-color="#f4ee10"/><stop offset="0.50" stop-color="#f8cc10"/><stop offset="0.57" stop-color="#f39a1c"/><stop offset="0.63" stop-color="#ec6a22"/><stop offset="0.70" stop-color="#d83a20"/><stop offset="0.80" stop-color="#b81a1a"/><stop offset="0.90" stop-color="#981414"/><stop offset="1" stop-color="#701010"/></linearGradient></defs>
<rect x="434.9" y="61.8" width="5.8" height="79" fill="url(#cb)"/>
<text x="443.50" y="63.80" font-size="5.80" fill="#222" stroke="#222" stroke-width="0.10" text-anchor="start">10</text>
<text x="443.50" y="79.60" font-size="5.80" fill="#222" stroke="#222" stroke-width="0.10" text-anchor="start">8</text>
<text x="443.50" y="95.40" font-size="5.80" fill="#222" stroke="#222" stroke-width="0.10" text-anchor="start">6</text>
<text x="443.50" y="111.20" font-size="5.80" fill="#222" stroke="#222" stroke-width="0.10" text-anchor="start">4</text>
<text x="443.50" y="127.00" font-size="5.80" fill="#222" stroke="#222" stroke-width="0.10" text-anchor="start">2</text>
<text x="443.50" y="142.80" font-size="5.80" fill="#222" stroke="#222" stroke-width="0.10" text-anchor="start">0</text>
<text x="459.3" y="55.7" font-size="6" font-weight="bold" fill="#222">Tumor</text>
<rect x="459.6" y="58.7" width="8" height="7.9" fill="#2a8c42" stroke="#1e6a30" stroke-width="0.4"/>
<rect x="459.6" y="66.6" width="8" height="8.2" fill="#f5a01e" stroke="#c07a10" stroke-width="0.4"/>
<text x="470.90" y="64.70" font-size="6.00" fill="#222" stroke="#222" stroke-width="0.10" text-anchor="start">T-ALL</text>
<text x="470.90" y="73.00" font-size="6.00" fill="#222" stroke="#222" stroke-width="0.10" text-anchor="start">T-LBL</text>
<text x="459.3" y="86.4" font-size="6" font-weight="bold" fill="#222">Subtype</text>
<rect x="459.6" y="89.10" width="8" height="8.33" fill="#d4232b"/>
<text x="470.90" y="95.40" font-size="6.00" fill="#222" stroke="#222" stroke-width="0.10" text-anchor="start">TALLMO</text>
<rect x="459.6" y="97.43" width="8" height="8.33" fill="#e87a70"/>
<text x="470.90" y="103.73" font-size="6.00" fill="#222" stroke="#222" stroke-width="0.10" text-anchor="start">NOTCH1 fusion</text>
<rect x="459.6" y="105.76" width="8" height="8.33" fill="#3050b8"/>
<text x="470.90" y="112.06" font-size="6.00" fill="#222" stroke="#222" stroke-width="0.10" text-anchor="start">TLX1</text>
<rect x="459.6" y="114.09" width="8" height="8.33" fill="#c49cd2"/>
<text x="470.90" y="120.39" font-size="6.00" fill="#222" stroke="#222" stroke-width="0.10" text-anchor="start">TLX3</text>
<rect x="459.6" y="122.42" width="8" height="8.33" fill="#f0e61c"/>
<text x="470.90" y="128.72" font-size="6.00" fill="#222" stroke="#222" stroke-width="0.10" text-anchor="start">ETP</text>
<rect x="459.6" y="130.75" width="8" height="8.33" fill="#f0b022"/>
<text x="470.90" y="137.05" font-size="6.00" fill="#222" stroke="#222" stroke-width="0.10" text-anchor="start">Immature/SPI1</text>
<rect x="459.6" y="139.08" width="8" height="8.33" fill="#ffffff"/>
<text x="470.90" y="145.38" font-size="6.00" fill="#222" stroke="#222" stroke-width="0.10" text-anchor="start">Undefined</text>
<rect x="459.8" y="139.28" width="7.6" height="7.9" fill="none" stroke="#bbb" stroke-width="0.5"/>
<path d="M93.00 494.10L93.00 443.10A51.00 51.00 0 0 1 139.33 515.41Z" fill="#e8e021" stroke="#22160f" stroke-width="1.1" stroke-linejoin="round"/>
<path d="M93.00 494.10L139.33 515.41A51.00 51.00 0 0 1 130.06 529.14Z" fill="#e4d2ec" stroke="#22160f" stroke-width="1.1" stroke-linejoin="round"/>
<path d="M93.00 494.10L130.06 529.14A51.00 51.00 0 0 1 43.58 481.50Z" fill="#f5ae90" stroke="#22160f" stroke-width="1.1" stroke-linejoin="round"/>
<path d="M93.00 494.10L43.58 481.50A51.00 51.00 0 0 1 93.00 443.10Z" fill="#e07b69" stroke="#22160f" stroke-width="1.1" stroke-linejoin="round"/>
<path d="M239.45 494.20L239.45 443.20A51.00 51.00 0 0 1 279.03 526.36Z" fill="#e8e021" stroke="#22160f" stroke-width="1.1" stroke-linejoin="round"/>
<path d="M239.45 494.20L279.03 526.36A51.00 51.00 0 0 1 242.21 545.13Z" fill="#e4d2ec" stroke="#22160f" stroke-width="1.1" stroke-linejoin="round"/>
<path d="M239.45 494.20L242.21 545.13A51.00 51.00 0 0 1 217.74 540.35Z" fill="#96b4e2" stroke="#22160f" stroke-width="1.1" stroke-linejoin="round"/>
<path d="M239.45 494.20L217.74 540.35A51.00 51.00 0 0 1 239.45 443.20Z" fill="#f5ae90" stroke="#22160f" stroke-width="1.1" stroke-linejoin="round"/>
<text x="92.50" y="432.00" font-size="9.20" fill="#2a2a2a" stroke="#2a2a2a" stroke-width="0.00" text-anchor="middle">T-LBL</text>
<text x="239.30" y="432.00" font-size="9.20" fill="#2a2a2a" stroke="#2a2a2a" stroke-width="0.00" text-anchor="middle">T-ALL</text>
<rect x="319.2" y="470.00" width="7.4" height="7.6" fill="#e8e021" stroke="#3a2a20" stroke-width="0.8"/>
<text x="329.70" y="476.00" font-size="6.10" fill="#2a2a2a" stroke="#2a2a2a" stroke-width="0.03" text-anchor="start">ETP</text>
<rect x="319.2" y="480.25" width="7.4" height="7.6" fill="#e4d2ec" stroke="#3a2a20" stroke-width="0.8"/>
<text x="329.70" y="486.25" font-size="6.10" fill="#2a2a2a" stroke="#2a2a2a" stroke-width="0.03" text-anchor="start">Immature/TCRGD</text>
<rect x="319.2" y="490.50" width="7.4" height="7.6" fill="#96b4e2" stroke="#3a2a20" stroke-width="0.8"/>
<text x="329.70" y="496.50" font-size="6.10" fill="#2a2a2a" stroke="#2a2a2a" stroke-width="0.03" text-anchor="start">Early cortical</text>
<rect x="319.2" y="500.75" width="7.4" height="7.6" fill="#f5ae90" stroke="#3a2a20" stroke-width="0.8"/>
<text x="329.70" y="506.75" font-size="6.10" fill="#2a2a2a" stroke="#2a2a2a" stroke-width="0.03" text-anchor="start">Late cortical</text>
<rect x="319.2" y="511.00" width="7.4" height="7.6" fill="#e07b69" stroke="#3a2a20" stroke-width="0.8"/>
<text x="329.70" y="517.00" font-size="6.10" fill="#2a2a2a" stroke="#2a2a2a" stroke-width="0.03" text-anchor="start">NOTCH1 fusion</text>
</svg></body></html>
